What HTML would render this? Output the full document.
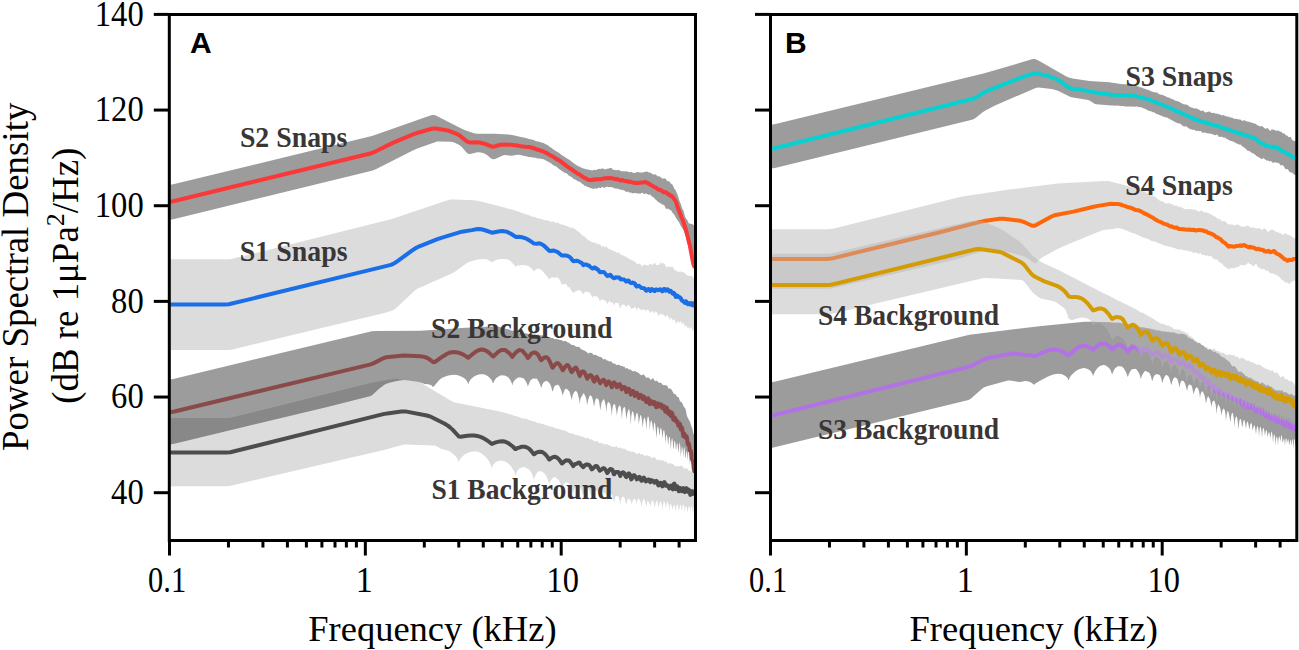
<!DOCTYPE html>
<html><head><meta charset="utf-8"><style>html,body{margin:0;padding:0;background:#fff;width:1299px;height:650px;overflow:hidden}svg{display:block}</style></head>
<body><svg width="1299" height="650" viewBox="0 0 1299 650"><text x="143.7" y="503.9" font-family="Liberation Serif" font-size="35.5" font-weight="normal" text-anchor="end" fill="#000" textLength="32.6" lengthAdjust="spacingAndGlyphs">40</text>
<text x="143.7" y="408.24" font-family="Liberation Serif" font-size="35.5" font-weight="normal" text-anchor="end" fill="#000" textLength="32.6" lengthAdjust="spacingAndGlyphs">60</text>
<text x="143.7" y="312.58" font-family="Liberation Serif" font-size="35.5" font-weight="normal" text-anchor="end" fill="#000" textLength="32.6" lengthAdjust="spacingAndGlyphs">80</text>
<text x="143.7" y="216.92000000000002" font-family="Liberation Serif" font-size="35.5" font-weight="normal" text-anchor="end" fill="#000" textLength="48.9" lengthAdjust="spacingAndGlyphs">100</text>
<text x="143.7" y="121.26000000000002" font-family="Liberation Serif" font-size="35.5" font-weight="normal" text-anchor="end" fill="#000" textLength="48.9" lengthAdjust="spacingAndGlyphs">120</text>
<text x="143.7" y="25.6" font-family="Liberation Serif" font-size="35.5" font-weight="normal" text-anchor="end" fill="#000" textLength="48.9" lengthAdjust="spacingAndGlyphs">140</text>
<text x="167.1" y="591.5" font-family="Liberation Serif" font-size="35.5" font-weight="normal" text-anchor="middle" fill="#000" textLength="38.0" lengthAdjust="spacingAndGlyphs">0.1</text>
<text x="364.35" y="591.5" font-family="Liberation Serif" font-size="35.5" font-weight="normal" text-anchor="middle" fill="#000" textLength="17.0" lengthAdjust="spacingAndGlyphs">1</text>
<text x="562.8000000000001" y="591.5" font-family="Liberation Serif" font-size="35.5" font-weight="normal" text-anchor="middle" fill="#000" textLength="32.4" lengthAdjust="spacingAndGlyphs">10</text>
<text x="432.4" y="641" font-family="Liberation Serif" font-size="36.5" font-weight="normal" text-anchor="middle" fill="#000" >Frequency (kHz)</text>
<text x="768.1" y="591.5" font-family="Liberation Serif" font-size="35.5" font-weight="normal" text-anchor="middle" fill="#000" textLength="38.0" lengthAdjust="spacingAndGlyphs">0.1</text>
<text x="965.35" y="591.5" font-family="Liberation Serif" font-size="35.5" font-weight="normal" text-anchor="middle" fill="#000" textLength="17.0" lengthAdjust="spacingAndGlyphs">1</text>
<text x="1163.8" y="591.5" font-family="Liberation Serif" font-size="35.5" font-weight="normal" text-anchor="middle" fill="#000" textLength="32.4" lengthAdjust="spacingAndGlyphs">10</text>
<text x="1033.65" y="641" font-family="Liberation Serif" font-size="36.5" font-weight="normal" text-anchor="middle" fill="#000" >Frequency (kHz)</text>
<text x="190" y="53" font-family="Liberation Sans" font-size="30" font-weight="bold" text-anchor="start" fill="#000" >A</text>
<text x="785" y="53" font-family="Liberation Sans" font-size="30" font-weight="bold" text-anchor="start" fill="#000" >B</text>
<g transform="translate(27.6,451) rotate(-90)">
<text x="0" y="0" font-family="Liberation Serif" font-size="36.9" font-weight="normal" text-anchor="start" fill="#000" >Power Spectral Density</text>
</g>
<g transform="translate(78,403.8) rotate(-90)">
<text x="0" y="0" font-family="Liberation Serif" font-size="36.9" font-weight="normal" text-anchor="start" fill="#000" >(dB re 1μPa<tspan dy="-14" font-size="26">2</tspan><tspan dy="14">/Hz)</tspan></text>
</g>
<g>
<path d="M170.3,259.3 227.3,259.3 229.8,259.2 232.3,258.8 391.8,219.1 448.3,200 450.8,199.4 453.8,199.4 473.8,200.3 477.8,200.8 492.8,204.5 495.3,205.3 498.8,206 501.3,206.8 505.3,207.7 507.3,208.5 511.3,209.3 514.8,210.6 519.8,212.1 522.8,213.4 524.3,213.5 525.3,214.2 528.8,215.1 531.8,216.4 534.8,216.9 538.3,218.5 539.8,218.6 543.3,219.8 544.8,219.9 545.8,220.4 547.3,220.3 550.8,221.8 551.3,221.8 552.8,221.5 553.3,221.6 555.3,222.7 556.3,222.9 557.8,222.6 560.8,224.4 562.8,224.4 564.3,225.3 565.3,225.3 566.3,226.1 567.8,226.3 569.3,227.5 570.8,227.7 572.3,227.6 572.8,227.8 576.3,230 577.8,231.4 579.3,232 580.3,233.5 582.3,235.4 583.8,236 585.3,237.6 586.3,238.1 587.8,240.1 590.8,241.3 591.8,242.6 592.3,242.7 593.3,242.1 593.8,242.2 594.8,243 596.3,243.5 597.3,243.6 598.3,244.5 598.8,244.5 599.8,244 600.3,244.5 601.3,246.6 601.8,246.8 602.8,245.9 603.3,246.1 604.8,247.3 605.3,247.2 606.3,246.5 606.8,246.8 607.8,248.3 608.8,248.4 609.8,249.3 611.3,250 612.3,250.2 613.8,251.3 615.8,251.7 617.3,252.9 617.8,252.9 618.3,252.6 618.8,252.6 621.3,254.9 621.8,255.2 622.8,255.3 624.3,256.1 625.3,256.9 626.3,256.6 627.8,258.5 629.3,258.5 630.8,260 633.3,260.7 634.8,261.7 637.3,264.1 637.8,264.3 638.3,264.3 639.3,263.6 639.8,263.6 640.3,264 641.8,266.2 642.3,266.2 643.3,265.1 644.3,264.6 645.3,265 646.3,264.9 646.8,265 647.8,265.9 648.3,265.8 649.3,264 649.8,263.7 650.8,264.6 651.8,264.5 652.8,264.8 653.3,264.5 654.3,262.9 654.8,262.7 656.3,264.9 658.3,265.1 658.8,265 659.3,264.6 660.3,262.6 660.8,262.6 661.3,263.5 661.8,263.7 662.3,263.3 663.8,263.2 664.3,263.5 665.8,266.2 666.8,267.3 667.3,267.4 668.3,266.6 668.8,266.5 669.8,266.8 670.8,267.5 671.3,267.1 671.8,266.3 672.3,266.2 673.8,269 675.3,270.6 676.8,270.7 678.3,271.9 678.8,272.1 680.3,271.3 680.8,271.6 681.3,272.3 681.8,272.6 682.8,271.8 685.3,273.6 686.3,274.8 687.3,275.5 687.8,275.7 689.8,275.7 690.8,276 691.8,275.8 692.3,276.3 693.3,277.9 694.8,278.1 L694.8,328.5 694.3,328.2 693.8,329.1 692.8,331.8 691.8,327.9 691.3,327.3 690.8,327.8 690.3,330 689.3,327.7 688.8,327.4 688.3,327.6 687.8,328.2 687.3,327.4 686.8,326 686.3,325.5 685.8,325.4 685.3,325.8 684.8,327.2 684.3,324.7 683.8,323.5 683.3,322.9 682.8,322.8 681.8,324.3 681.3,322.3 680.8,321.2 680.3,321.1 679.3,322.8 678.8,323.2 678.3,321.4 677.8,320.9 676.3,323.3 675.8,323.8 675.3,321.2 674.8,320.1 673.8,319.2 673.3,319.4 672.8,320.7 672.3,320 671.3,317.9 670.8,317.6 670.3,317.8 669.3,320 668.8,317.8 668.3,316.6 667.3,315 666.8,315 666.3,316 665.8,317.6 665.3,316.6 663.3,314.2 662.8,314.1 662.3,315.8 661.8,314.2 661.3,313.6 660.8,313.5 660.3,313.9 658.8,315.8 658.3,315.3 657.8,314 655.8,311.2 655.3,311.6 654.8,313.1 654.3,313.3 652.8,311 652.3,310.9 651.3,311.7 650.8,312.7 650.3,313.3 649.8,311.9 648.3,309.7 647.8,309.5 647.3,309.6 646.8,310 646.3,311.1 645.3,310 644.8,310.1 643.3,309.2 642.8,309.2 642.3,309.6 641.8,310.4 641.3,310.3 640.8,309.5 639.8,309.2 638.8,307.7 638.3,307.5 637.8,308.1 636.8,310.6 635.8,307.7 635.3,307 634.8,307 633.8,308.2 632.8,308.1 632.3,308.4 631.8,309.3 631.3,308.8 630.3,306.7 628.8,305.1 628.3,304.8 627.8,305.2 626.3,307.3 625.3,305.6 623.8,304.6 623.3,304.5 621.8,304.9 621.3,305.6 620.3,308.8 618.8,303.9 618.3,302.8 617.8,302.6 617.3,303.1 616.8,303.2 615.8,302.5 615.3,303 614.3,305.2 613.8,304.9 612.8,302.8 612.3,302.6 610.8,302.4 609.8,301.3 609.3,301.2 608.8,301.5 608.3,302.3 607.3,304.5 606.8,302.6 606.3,301.7 604.3,300 603.8,299.8 602.8,299.9 601.8,299.2 601.3,299.2 600.3,301 599.8,301.2 598.8,298.4 597.8,297.4 596.8,296.1 595.3,296.5 593.8,296.1 592.3,297.4 591.8,297 591.3,295.2 590.8,294.2 589.3,292.5 588.8,292.2 585.8,291.5 583.8,293.2 583.3,294.2 582.8,293.9 581.8,292 581.3,291.5 579.8,290.4 579.3,290.2 578.8,290.2 577.3,290.4 576.3,291 574.3,291.9 573.8,292.3 573.3,293.4 572.3,291.4 571.3,290.5 570.8,289.8 569.8,287.5 569.3,287 568.3,287.2 567.8,286.9 566.3,284.4 565.8,284.1 563.8,283.9 562.8,284.3 562.3,285 561.8,284.7 559.8,280.1 558.8,278.5 557.8,277.5 556.8,277.2 554.3,277.8 551.8,277.3 551.3,277.4 550.3,278.2 549.3,279.6 546.8,275.9 542.3,270.7 541.8,270.2 538.8,268.7 538.3,268.6 536.3,269.3 534.8,270.2 533.8,271.2 532.3,269.2 530.3,267.3 527.8,266 525.8,265.2 521.8,265 519.3,265.4 517.3,265.5 515.3,266.8 514.3,265.1 510.8,261.3 509.8,260.5 508.3,259.8 505.8,259.1 501.3,259 499.3,259.2 497.8,259.5 493.8,260.9 492.3,262.1 491.8,262.9 491.3,262.1 490.3,261.2 487.8,259.8 485.3,259 482.8,258.9 480.3,259.2 476.8,259.8 472.3,260.9 468.8,262 466.3,263.6 454.8,271.7 452.3,273.2 417.3,288.8 415.8,289.7 413.8,291.4 397.3,307 394.8,309.2 392.3,310.5 385.3,312.8 231.3,349.8 227.3,350.1 170.3,350.1Z" fill="#b4b4b4" fill-opacity="0.469"/>
<path d="M170.3,184.8 174.3,184 371.8,136 376.3,134.6 430.3,115.6 432.3,115.1 433.8,114.9 435.3,115.3 436.8,116 462.8,129.3 465.8,130.5 474.8,133.4 477.8,133.8 494.8,133.8 508.3,134.5 512.3,134.9 520.8,137 523.8,137.5 529.3,139.1 533.8,140 534.8,140.4 535.8,141.2 537.3,141.3 539.8,141.9 541.3,142.6 542.8,142.8 544.3,143.4 548.3,145.6 549.8,146.9 551.8,148 552.8,149 555.3,150.8 558.8,152.7 562.3,155.5 563.8,156.2 567.8,159.1 569.8,159.9 571.3,161.6 572.3,162.1 573.3,163.1 574.8,163.9 577.8,166.1 580.3,166.9 581.8,167.9 584.8,168.7 585.8,169.2 587.3,169.3 588.3,169.8 590.3,169.9 591.3,170.3 592.3,170.4 593.3,170.1 594.3,169.7 595.8,170.2 596.8,169.4 597.3,169.2 598.3,169.3 599.3,168.7 600.3,168.9 601.8,168.8 602.8,168.3 604.8,169.4 606.8,168.8 608.3,168.8 609.8,168.1 611.3,168.1 611.8,168.4 612.8,169.6 613.3,169.9 614.3,169.7 615.8,170.2 618.8,170 619.3,170.1 620.3,171 620.8,171.2 621.8,171.1 622.8,171.6 623.8,171.3 624.8,171.6 626.3,171.3 628.3,171.7 629.3,172.3 631.8,172.1 632.8,172.8 633.8,173 635.3,172.8 636.3,172.2 637.8,172.1 638.8,172.4 639.8,172.3 641.8,172.7 642.8,172.5 643.8,172 644.8,172 646.3,171.4 646.8,171.4 648.8,172.4 650.3,172.5 651.3,173.4 652.3,173.8 653.3,174.6 653.8,174.7 655.3,174.3 655.8,174.4 657.8,176.4 658.3,176.5 659.3,176 660.8,177.4 662.8,178.7 663.8,178.2 664.3,178.3 665.3,178.8 665.8,179.1 667.3,181.2 668.3,181.1 669.3,181.6 670.8,183.4 672.3,184.4 672.8,185.2 674.3,188.7 675.3,189.8 677.3,194 679.3,200.5 680.8,203.9 681.8,207.5 682.3,208.8 683.3,210.3 685.3,217.4 687.3,219.9 688.8,223.5 689.3,223.7 689.8,223.3 690.3,223.4 690.8,223.9 691.3,224 691.8,223.8 693.8,225.2 694.8,225.2 L694.8,263.9 691.8,256.1 689.3,246.6 688.8,245.2 687.8,243.7 687.3,242.3 685.8,236.2 684.3,232.2 682.8,229.1 680.8,225.9 679.3,222.7 677.8,220.5 676.8,219.3 674.3,214.8 672.3,212.6 671.3,210.6 670.8,210.2 669.8,210.1 668.8,208.9 668.3,208.5 667.3,209.1 665.8,208.4 664.3,205.3 663.8,204.8 662.8,204.7 662.3,204.5 657.3,201.2 656.3,200.1 654.8,199 653.3,197 652.3,196.8 651.8,196.4 650.3,194.6 649.8,194.6 648.8,195.1 647.8,194.3 646.8,194.1 645.8,193.3 644.8,194.1 644.3,194.1 643.3,193.6 642.3,192.8 641.8,192.7 640.8,193.6 640.3,193.8 638.8,193.4 637.3,193.6 636.8,193.3 633.8,192.9 633.3,192.9 632.3,193.4 631.8,193.2 630.8,192.3 629.3,192.7 628.3,191.7 627.8,191.6 626.3,192 625.8,191.7 624.8,190.7 623.8,190.5 622.8,189.8 621.8,189.9 616.8,188.4 615.8,188.6 614.8,188.6 614.3,188.4 613.3,187.5 612.3,187.4 611.3,187 608.8,187.2 607.8,186.8 606.8,186.7 605.3,187.2 604.3,187.9 603.8,187.9 602.8,186.7 602.3,186.9 600.8,188.1 600.3,188.1 599.3,187.7 598.8,187.6 597.3,188.7 596.8,188.8 595.3,188.3 594.3,188.8 592.3,188.8 588.8,187.2 587.3,186.9 586.3,186.1 585.3,186.1 584.8,185.9 583.8,184.7 582.8,184.2 579.8,181.8 578.3,181.6 575.3,179.5 574.8,179.3 573.8,179.2 573.3,178.8 572.3,177.4 568.8,175.6 566.8,173.6 564.3,172.5 562.3,171.3 558.8,168.8 556.3,166.6 553.3,165.3 551.3,163.5 547.8,161.4 545.3,160.2 543.8,159.2 541.8,158.9 540.3,158.5 537.3,158.4 535.8,157.7 534.3,157.7 533.3,157.4 532.3,157.4 530.3,157 528.8,157.1 527.3,156.4 522.3,155.6 520.8,155 517.3,154.8 511.8,155.8 508.3,155.5 505.8,155 503.3,155.2 498.3,157.4 495.8,158.7 493.8,159.3 492.8,159.3 490.8,158.3 487.3,155.3 485.3,154 483.8,153.3 480.8,152.5 478.8,152.2 477.3,152.2 470.3,153.9 469.3,154 468.3,153.8 467.3,153.2 466.3,152.3 461.8,147.1 459.8,145.3 457.8,144.2 454.3,142.6 452.3,142 450.8,141.7 440.3,141.4 437.3,141.6 434.3,142.4 417.3,148.4 412.8,150.4 376.3,169 373.8,170.1 371.8,170.8 174.3,219 170.3,219.8Z" fill="#1a1a1a" fill-opacity="0.43"/>
<path d="M170.3,418.1 226.3,418.1 230.3,417.8 371.3,382.8 392.3,378.9 394.3,378.7 396.3,378.8 416.8,381.7 420.3,382.6 423.3,384.2 451.3,400.9 454.8,402.6 499.8,411.6 504.8,412.7 507.3,413.6 511.8,414.8 514.8,415.9 516.8,416.2 522.8,418.4 523.8,418.4 526.8,419.1 528.8,420 532.3,420.9 533.3,421.3 534.8,421.6 537.3,423.1 537.8,423.3 539.3,423 539.8,423.1 541.3,423.9 543.3,424 545.3,425 547.8,425.4 549.3,426.4 549.8,426.6 551.3,426.6 553.8,427.4 555.3,428.2 557.3,428.7 558.3,428.6 559.3,429.3 560.8,429.8 564.8,430.4 567.3,432.1 569.3,433.1 570.3,433.2 571.3,433.6 573.3,433.8 575.3,435 576.3,434.9 577.8,435.5 579.3,435.5 581.8,436.7 583.3,436.8 584.8,437.9 586.3,438 587.8,437.7 588.3,437.9 590.3,439.7 591.3,439.1 591.8,439.3 594.3,441.4 596.3,441 596.8,441 599.8,443.3 600.8,443.1 601.8,443.3 602.8,443.3 603.3,443.4 604.3,444.6 604.8,444.6 606.8,443.8 607.8,444.7 608.8,444.9 611.8,446.5 613.8,446.9 614.8,446.9 616.3,446.1 616.8,446.2 617.8,447.8 618.3,448.2 619.3,447.5 619.8,447.4 620.8,448.1 622.8,448.8 623.8,448.4 624.3,448.6 625.3,449.5 626.8,449.8 628.3,451.5 629.8,450.8 631.3,452 631.8,452 632.8,451.5 633.3,451.5 635.3,453.1 637.3,454 637.8,453.8 639.3,452.7 640.3,454.3 640.8,454.5 641.3,454.2 642.8,454.2 643.3,454.4 644.3,455.8 644.8,456.2 645.3,456.1 646.3,455.1 646.8,455.1 648.3,456.3 649.8,456 651.3,457.8 652.3,458.2 653.8,457.3 654.3,457.2 654.8,457.2 656.3,459.3 656.8,459.7 657.3,459.9 658.8,460 660.3,459.8 661.3,460.8 661.8,460.8 662.8,460 663.8,460.7 664.8,461.9 665.3,461.8 665.8,461.2 666.3,461.2 667.8,463.4 668.3,463.7 669.8,463.1 670.8,463.8 671.8,463.5 673.8,464.7 674.8,466.2 675.3,466.5 676.3,465.9 676.8,465.9 677.3,466.3 677.8,466.4 678.8,466.1 679.8,466.4 680.3,466.2 681.3,465.2 681.8,465.5 682.8,466.9 684.8,468.7 685.3,468.8 686.3,468.2 686.8,468.1 688.8,470.7 689.8,470.4 690.8,471.3 691.8,471.5 692.8,472.1 693.3,471.9 694.3,470.7 694.8,471 L694.8,508.4 694.3,506.8 693.8,507.3 693.3,509.9 692.8,514.2 692.3,508.9 691.8,506.3 691.3,505.5 690.8,507.1 690.3,512.8 689.8,508.1 689.3,506.2 688.8,506.2 688.3,507.8 687.8,511.5 687.3,511.2 686.8,508 686.3,506.4 685.8,506.1 685.3,507.6 684.8,513.2 684.3,506.8 683.8,504.7 683.3,504.3 682.8,505.2 681.8,511.2 681.3,507.3 680.8,505.3 680.3,504.6 679.8,506 678.8,511.7 678.3,507.3 677.8,505.1 677.3,504.2 676.8,504.8 676.3,507.5 675.8,512.1 675.3,507.5 674.8,505.4 674.3,504.7 673.8,505.2 673.3,506.5 672.8,509.7 671.8,505.9 670.8,503.9 670.3,504.1 669.8,506.2 669.3,510.5 668.8,505.6 668.3,503.4 667.8,502 667.3,501.9 666.8,503.2 665.8,508.4 665.3,504.3 664.8,502.4 664.3,501.4 663.8,501.5 662.8,505.4 662.3,510.5 661.8,505 661.3,502.6 660.8,501.5 660.3,501.7 659.8,502.5 659.3,503.8 658.8,506.4 658.3,506.6 657.8,503.2 657.3,501.5 656.8,500.8 656.3,501.1 655.3,504.6 654.8,507.6 654.3,506.4 653.8,503.2 653.3,501.3 652.8,500.4 652.3,500.4 651.8,501 651.3,502.2 650.3,506.6 649.8,504 648.3,501.2 647.8,500.8 647.3,501.5 646.8,503.4 646.3,506.7 645.8,505.1 645.3,502 644.8,500.5 643.8,499.2 643.3,499 642.8,500.2 641.8,505.8 641.3,505.6 640.8,502.7 639.3,499.4 638.8,498.7 638.3,498.6 637.8,499.1 637.3,500.6 636.8,504.6 635.8,500.4 635.3,499.4 634.8,498.8 634.3,498.6 633.8,499.1 632.8,500.7 632.3,501.8 631.8,504 631.3,503.1 630.8,501 630.3,499.9 628.8,498.6 628.3,498.6 627.3,500.6 626.3,505.3 624.8,498.8 624.3,497.5 623.8,496.9 623.3,496.8 622.3,496.9 621.8,497.4 621.3,498.6 620.8,501.1 620.3,505.6 619.8,501.7 619.3,499.5 618.8,497.7 618.3,496.6 617.8,496 616.3,495.7 615.8,495.9 615.3,497.1 614.3,502.1 613.8,501.6 613.3,498.8 612.3,495.4 610.8,493.6 608.8,494.2 608.3,495.3 607.8,497.4 607.3,501.2 606.8,497.8 606.3,495.8 605.8,494.3 604.8,492.9 603.8,492.2 603.3,492.3 602.8,492.7 601.8,494.5 600.3,498.5 599.8,498.7 599.3,496.2 598.3,493.2 597.3,490.8 596.8,490.4 595.3,490.9 593.3,493.1 591.8,498.5 590.3,492.5 587.8,487.6 586.8,487.3 586.3,487.5 585.8,488.3 583.8,493.2 583.3,495.6 582.8,494.5 581.8,490.8 580.3,487.8 579.3,486.5 577.8,486.1 576.3,486.3 574.8,487.9 573.8,491.3 573.3,494.4 571.8,487.9 570.8,485.6 569.3,483.5 567.3,482.4 565.3,482.5 563.8,484.1 562.8,486.3 562.3,488.3 561.8,488.3 560.8,484.4 558.8,479.9 558.3,479.4 557.3,479.2 555.8,477.3 555.3,477.1 553.8,477.3 552.3,478.4 549.8,482.3 549.3,484.3 547.8,479.4 546.3,476.1 544.8,473.8 542.3,471.7 541.8,471.5 539.8,471 537.8,471.8 537.3,472.3 535.3,475.5 534.3,478.6 533.8,479.5 532.8,475.8 531.3,472.5 530.3,470.9 528.8,469.3 527.8,468.9 525.8,467.4 524.3,467.1 522.8,467.2 520.3,467.9 518.8,469 517.3,471.3 515.3,475.5 514.3,471.8 510.8,466 508.3,463.6 505.8,461.7 501.3,460.4 498.3,461 496.3,461.8 494.8,462.9 493.8,463.9 492.8,465.4 492.3,466.5 491.8,468.7 490.8,464.9 489.8,462.7 488.3,460.3 486.3,457.7 483.8,455.2 480.8,452.9 478.8,451.9 476.3,451.3 473.3,451.4 470.3,452 467.3,453.1 464.3,454.8 461.8,456.9 460.3,458.7 459.3,460.7 458.8,463.1 458.3,460.6 456.8,457.8 454.8,455.5 450.8,452.3 448.8,451.1 446.8,450.3 440.8,448.7 436.3,446 434.8,445.6 432.3,445.4 407.3,444.4 405.3,444.4 403.3,444.7 382.8,450.2 229.8,486 225.8,486.2 170.3,486.2Z" fill="#b4b4b4" fill-opacity="0.469"/>
<path d="M170.3,379.6 174.3,378.8 371.8,331.2 375.3,331 420.3,330.7 465.8,327.7 496.3,326.3 498.8,326.7 505.8,328.8 508.3,329.3 511.3,330.5 514.3,331.1 519.8,333.2 521.8,333.3 523.3,333.6 525.3,333.3 530.3,334.2 535.3,334.4 536.8,334.8 538.3,334.8 539.3,335.1 541.3,335.4 542.8,335.3 544.3,336.1 546.8,336.7 547.8,337.1 549.8,337.2 551.3,337.9 552.8,338 553.8,338.8 554.3,339 556.3,339.1 557.3,339.4 558.3,339.3 559.8,340 561.3,340 563.3,341.2 564.8,341 565.8,341.1 567.3,342.3 568.8,342.7 571.8,344.9 573.8,344.9 575.3,346.2 575.8,346.4 577.3,346.9 578.3,346.8 579.3,347.1 580.8,349.1 581.3,349.4 581.8,349.3 583.3,350.3 584.3,350.4 584.8,350.7 587.3,352.6 588.3,353.7 589.3,352.7 589.8,352.5 590.8,353.1 591.8,353 592.3,353.3 593.3,354.8 593.8,355 595.3,354.7 595.8,354.8 596.8,355.5 598.8,356.5 601.3,357.2 603.3,359.3 603.8,359.4 604.8,358.9 605.3,359 606.8,360.5 607.8,360.5 608.8,361.3 609.3,361.4 610.3,361.2 611.3,361.5 611.8,361.9 612.8,363.4 613.3,363.5 614.3,363.2 616.3,364.9 618.8,364.7 619.3,364.8 620.3,365.8 620.8,366 621.8,365.8 623.3,366.8 624.3,366.6 625.8,368.8 626.8,367.9 627.3,367.9 628.8,369.6 629.3,369.8 630.3,369.2 631.8,370.7 633.3,371.5 633.8,371.5 634.8,370.7 635.3,370.9 636.3,371.9 637.3,372 638.3,373 639.3,373.5 640.3,374.8 641.8,375.3 642.3,375.3 643.3,374.2 643.8,374.4 646.3,377.8 646.8,377.9 647.8,377.2 649.3,378.1 650.3,379.5 650.8,379.9 651.3,379.6 652.8,378.2 653.3,378.2 654.8,381.2 655.3,381.2 655.8,380.6 656.3,380.5 657.8,381.4 658.8,382.7 660.8,382.8 661.3,383.1 662.3,384.5 663.8,385.2 664.8,385 665.8,385.4 666.8,385.2 667.3,385.9 668.8,389 669.3,388.8 669.8,388.2 670.3,388.4 670.8,389.1 671.8,389.9 673.8,393.7 674.3,394 674.8,393.7 675.3,394 677.3,396.9 677.8,397.1 678.3,397 678.8,397.6 679.8,400.7 680.3,401.5 681.8,402.2 683.8,406.8 685.3,408.5 685.8,409.9 686.8,415.2 687.3,416.8 688.8,419.7 689.8,421.2 690.8,424.6 692.3,428.4 693.3,433 693.8,434.5 694.3,434.5 694.8,433.9 L694.8,457.8 694.3,462.9 693.8,463.8 693.3,456.1 692.8,454.5 691.8,462.4 691.3,454.4 690.8,452.9 690.3,456.6 689.8,464.6 689.3,453.5 688.8,449.8 688.3,451.5 687.8,460.4 687.3,454.5 686.8,450.9 686.3,451.7 685.8,456.7 685.3,458.2 684.8,450 684.3,447.1 683.8,448.8 683.3,457.4 682.8,450.8 682.3,447 681.8,446.9 680.8,456.8 680.3,446.6 679.8,442.6 679.3,443.7 678.8,449.8 678.3,452.7 677.8,445.6 677.3,442.9 676.8,444 676.3,449 675.8,449.1 675.3,442.3 674.8,440.5 674.3,442 673.8,447.2 673.3,449.4 672.8,441.4 672.3,438.3 671.8,438.8 671.3,442.4 670.8,449.8 670.3,440.8 669.8,437.3 669.3,436.4 668.8,438.5 668.3,445.4 667.3,437 666.8,434.8 666.3,435 665.8,437.7 665.3,443.7 664.8,434.1 664.3,430.6 663.8,430 663.3,431.3 662.8,435.6 662.3,438.1 661.8,431.4 661.3,428.5 660.8,427.7 660.3,429.1 659.8,433.5 659.3,435.8 658.8,429.6 658.3,427 657.8,426.4 657.3,427.9 656.3,438.5 655.8,430 655.3,425 654.8,422.6 654.3,422.8 653.8,425.5 653.3,431.8 652.3,424 651.8,421.5 651.3,420.4 650.8,420.9 650.3,423.4 649.8,430.7 649.3,421.5 648.8,418.1 648.3,416.6 647.8,416.7 647.3,418.6 646.8,422.8 646.3,430.3 645.8,422.6 645.3,419.4 644.8,418.1 644.3,417.8 643.8,418.7 643.3,421.5 642.8,428.1 641.8,419.3 641.3,416.6 640.8,415.1 640.3,415.3 639.8,417.5 638.8,424.3 638.3,417.5 637.8,414.4 637.3,413.1 636.8,413.1 636.3,414 635.8,415.9 634.8,422.3 634.3,417.2 633.8,414.3 633.3,412.4 632.8,411.5 632.3,411.6 631.8,412.9 631.3,416.1 630.8,425.4 630.3,416.2 629.8,412.1 629.3,409.6 628.8,409.1 628.3,409.9 627.8,411.4 627.3,413.4 626.3,419.3 625.8,412.9 625.3,408.9 624.8,407.1 624.3,407 623.3,408 622.8,409.7 622.3,412.8 621.8,419.1 621.3,411.4 620.8,407.8 620.3,405.9 619.8,405.4 619.3,405.6 618.8,406.3 618.3,407.5 617.8,409.4 616.8,415.5 616.3,410.5 615.3,405.4 614.8,404.4 614.3,404 613.8,404.2 613.3,404.9 612.8,406.4 612.3,409.5 611.8,416 611.3,410.1 610.8,406.5 610.3,404.3 609.8,403.2 608.8,402.2 608.3,402.1 607.8,402.6 607.3,404.1 606.8,406.8 606.3,412.2 605.8,406.6 605.3,403.4 604.3,400 603.8,399.3 603.3,399.5 602.8,400.2 601.8,402.2 601.3,403.8 600.3,410.5 599.3,402.4 598.8,400.3 598.3,399.3 596.8,398.3 596.3,398.3 595.8,399 595.3,400.3 594.8,402.3 594.3,405.8 593.8,405.6 593.3,401.9 592.3,397.8 591.8,396.7 591.3,396.1 590.3,395.2 589.8,395.4 589.3,396.4 588.3,399.3 587.8,401.5 587.3,405.3 586.3,399.3 585.8,397.4 584.8,394.9 583.8,393.2 583.3,393.6 580.8,397.8 580.3,399.7 579.8,404.6 579.3,400.1 577.8,394 577.3,392.4 576.8,391.7 576.3,391.3 575.3,391 574.8,391.4 573.8,392.7 572.8,395.1 572.3,396.9 571.8,400 569.8,392.6 569.3,391.6 567.3,389.2 565.8,388.8 565.3,388.8 564.8,389.5 563.3,393.3 562.8,395.8 561.3,390.4 559.3,386.1 558.8,385.5 557.8,384.8 557.3,384.7 556.3,385.3 554.8,385.7 554.3,386.4 553.8,387.9 552.8,391.5 552.3,390.9 551.3,387.1 549.8,383.5 549.3,382.9 548.3,382.2 547.3,381.1 546.8,380.8 546.3,380.9 545.3,381.6 544.3,381.8 543.3,382.8 542.3,384.5 541.3,387.9 540.8,386.9 540.3,385.1 538.8,381.8 536.8,378.8 536.3,378.5 535.3,378.8 533.8,378.4 533.3,378.6 532.3,379 530.3,380.6 527.8,386.6 527.3,384.4 526.3,381.9 523.8,378.6 523.3,378.2 520.8,377.4 518.3,377.6 517.3,378 514.3,380.6 512.8,383.2 512.3,385.6 511.8,383.2 511.3,381.9 509.8,379.2 508.8,378 507.8,377.1 504.8,375.6 503.8,375.4 501.3,375.3 499.3,376.1 497.8,376.9 496.3,378.1 495.3,379.2 493.8,381.8 493.3,383.3 492.8,382.9 491.8,380.4 490.8,378.9 488.3,376.5 485.3,374.8 483.3,374.3 481.8,374.2 479.8,374.3 477.3,374.9 474.8,376.1 472.8,377.5 471.3,378.8 469.8,380.7 468.8,382.6 468.3,384.8 467.8,382.8 466.8,380.9 465.3,379.1 463.8,377.9 461.8,376.7 459.3,375.7 456.8,375 454.3,374.8 451.3,374.9 448.3,375.4 445.3,376.4 442.3,377.7 440.8,378.7 439.3,380.1 433.3,386.9 432.8,386.7 431.3,385.3 429.8,384.7 428.3,384.3 424.8,383.9 419.8,382.2 417.3,381.7 404.3,380.1 401.3,380.3 394.3,381.4 387.8,383.3 384.8,384.6 378.8,389 372.3,395 370.8,395.9 368.8,396.6 327.3,406.9 174.3,443.7 170.3,444.5Z" fill="#1a1a1a" fill-opacity="0.43"/>
</g>
<path d="M170.3,304.6 224.8,304.6 228.8,304.3 383.8,266.6 390.8,264.9 393.3,263.9 395.8,262.3 413.3,249.7 416.3,247.8 419.3,246.4 436.8,239.4 441.3,237.8 461.8,231.7 471.8,230.1 476.3,229.2 478.8,229 481.3,229.2 484.3,230 491.8,232.7 499.8,231.3 503.3,231.1 506.8,231.7 511.3,234 515.3,236.7 515.8,236.9 518.3,236.8 522.3,237.3 525.8,238.4 528.3,239.7 531.3,241.6 533.8,243.5 537.3,243.7 539.3,243.3 540.3,243.6 543.8,245.5 549.3,250.8 550.3,251 553.8,250.6 557.3,251.8 561.8,255.5 564.8,255.4 566.3,255.5 567.3,255.8 569.3,256.8 570.8,258 572.3,260.1 573.3,261.2 576.8,260.7 578.3,261.1 580.3,262.3 581.3,262.7 582.3,263.7 583.3,265.2 585.3,264.4 586.8,264.8 589.3,265.9 590.3,267 592.3,268.5 592.8,268.5 594.3,267.5 594.8,267.5 598.3,270 599.8,272.1 600.3,272.3 601.3,272 602.8,271.9 604.3,272.4 607.3,276.1 608.8,275.6 609.8,274.8 610.3,274.8 611.8,276.6 613.8,278.2 614.3,278.2 615.8,277.3 617.3,277.5 618.8,277.4 619.3,277.6 619.8,278.2 620.3,279.2 620.8,279.4 621.8,279.2 623.3,279.6 624.3,279.6 624.8,279.9 625.8,281.3 626.3,281.7 627.8,280.7 628.3,280.5 628.8,280.8 629.8,282.3 630.3,282.7 631.8,283.1 632.3,282.6 632.8,282.6 634.3,283.1 634.8,283.5 635.8,285.5 636.3,286.2 636.8,286.6 637.8,285.9 638.8,285.8 639.8,286.4 641.3,287.9 642.3,287.9 643.3,288.2 644.3,288.2 644.8,288.7 645.8,290.5 646.3,290.7 648.3,288.9 648.8,289.1 650.3,290.9 651.8,289 652.3,289.1 654.3,291.1 654.8,291.1 655.8,289.6 656.3,289.4 658.3,290.3 659.8,289.3 660.8,289.4 661.3,289.8 662.3,291.4 663.8,289.1 664.3,288.9 664.8,289.1 665.3,289.6 665.8,290.7 666.3,290.4 667.3,289.3 667.8,289.4 668.8,290.5 669.3,291.6 670.3,290.8 670.8,290.8 672.3,293.2 672.8,293.6 673.3,293 673.8,292.8 674.3,293.3 675.8,297 676.8,295.6 677.3,295.5 678.8,297.3 679.8,297.3 680.3,297.6 680.8,298.3 681.8,300.5 682.8,300.8 684.3,302.2 684.8,302.9 685.8,301.3 686.3,301.4 687.3,303.8 687.8,304.2 688.3,303.4 688.8,303.1 689.3,303.3 690.3,304.5 690.8,303.3 691.3,303 692.8,305.5 693.8,303.5 694.3,303.1 694.8,303.6" fill="none" stroke="#1a6ee6" stroke-width="4.0" stroke-linejoin="round" stroke-linecap="butt"/>
<path d="M170.3,201.8 174.3,201 371.3,153.2 374.8,151.8 393.8,142.4 414.3,133.9 417.8,132.7 431.8,128.8 433.8,128.5 435.8,128.6 447.8,130.5 450.3,131.3 455.3,133.4 458.3,134.7 459.8,135.6 466.3,141 467.8,141.9 468.8,142.3 470.8,142.4 476.8,142.2 479.3,142.5 486.3,144.3 491.3,146.3 492.8,146.7 494.8,146.4 499.3,145 501.8,144.6 511.3,144.7 516.8,145.4 520.8,146.3 523.8,146.5 526.3,147.1 529.3,147 534.3,148.3 537.8,149.8 539.8,150.2 540.8,150.8 542.3,151.1 543.8,151.7 544.8,152.3 546.3,152.8 550.3,155.4 551.8,156 553.8,157.1 555.8,158.6 559.3,160.4 569.8,168.4 571.3,169.1 573.3,170.8 575.3,171.9 577.3,173.5 579.3,174.4 584.8,178.1 585.8,178.3 587.3,179.4 589.8,180.1 591.3,180.1 592.8,179.5 594.3,179.8 595.8,179.2 600.8,179.2 603.8,178.4 607.3,177.9 608.8,178.3 610.3,177.9 612.3,178.4 613.8,178.6 615.3,179.3 616.3,179.1 617.3,179.1 620.3,180.5 620.8,180.6 622.3,180.1 623.8,180.7 626.8,181.2 628.3,181.8 629.8,181.5 630.8,182.1 632.3,182.3 634.3,182.9 635.8,182.8 637.8,183.1 642.3,182.4 643.3,182.4 644.3,182.1 645.3,182.1 647.8,183 648.8,183.8 649.8,184.1 650.8,185 652.3,185.7 654.3,187.1 655.8,187.5 657.3,188.9 658.8,189.8 660.3,189.8 660.8,190.1 663.8,192.3 664.8,191.9 665.3,192 666.8,193 668.3,194.5 669.3,194.5 669.8,194.8 670.8,196.1 671.3,196.2 671.8,196.1 672.3,196.3 675.8,201.4 678.3,209.1 679.3,211.1 681.3,217 682.8,220.2 686.3,231.2 689.8,245.4 692.8,261.5 693.8,265.3 694.8,267.6" fill="none" stroke="#fa3838" stroke-width="4.0" stroke-linejoin="round" stroke-linecap="butt"/>
<path d="M170.3,452.6 226.3,452.6 230.3,452.3 383.3,414.1 387.3,413.4 401.3,411.5 405.3,411.4 426.8,415.5 429.3,416.2 431.3,417 444.8,423.7 447.8,425.6 450.3,427.6 452.8,429.9 458.8,436.5 460.8,436.7 467.3,435.7 470.8,435.4 474.3,435.5 477.3,435.9 480.3,436.8 483.8,438.4 487.3,440.5 491.8,443.9 495.8,442.4 499.8,441.4 502.8,441.3 505.3,441.8 508.8,443.4 510.3,444.7 512.8,446.5 515.3,449.1 515.8,449.1 517.3,448 519.3,447.6 521.3,446.7 524.8,446.7 527.3,447.6 529.3,448.9 531.8,451.6 533.8,454.3 534.3,454.2 536.3,452.6 537.8,452 540.3,451.7 542.3,452 544.8,453.8 547.8,457.2 548.8,459 549.3,459.5 552.8,457.1 554.8,456.7 555.8,456.9 558.3,458.7 559.8,460.4 561.8,463.4 562.3,463.4 564.3,461.5 566.3,460.3 567.8,460.6 568.8,460.4 569.3,460.7 571.3,463.2 573.3,466.2 574.3,464.8 575.3,463.9 576.8,463.7 578.3,462.7 579.3,462.5 579.8,462.9 580.8,464.8 581.8,465.5 582.8,466.9 583.3,467.2 584.8,465.4 585.3,465 586.8,464.5 587.3,464.5 589.3,465.2 590.3,466.5 591.3,468.7 591.8,469.4 595.3,466.2 595.8,465.9 596.3,465.9 597.3,466.5 599.8,470.7 600.3,470.5 603.3,468.2 603.8,468.1 604.3,468.4 605.8,470 607.3,473 609.8,469.5 610.3,469 610.8,469.1 612.3,469.7 612.8,470.7 613.8,474.1 614.3,474.3 615.3,472.4 615.8,472 617.8,471.9 618.3,472.1 618.8,472.7 620.3,475.9 621.3,473.4 621.8,472.8 622.8,472.4 623.3,472.3 623.8,472.7 625.8,476.7 626.3,477.2 627.8,474.1 628.3,473.5 628.8,473.4 629.3,473.6 629.8,474.6 630.8,478.2 631.3,479.3 631.8,478.9 632.8,476.1 633.3,475.5 633.8,475.2 634.3,475.3 635.8,477.3 636.8,479.3 637.8,478.7 638.8,477.1 639.3,476.7 639.8,477.1 641.3,480.7 641.8,480.8 643.3,478 643.8,477.6 644.3,478.2 645.3,480.7 645.8,481.4 646.3,481.2 646.8,480.3 648.3,479.4 648.8,479.6 650.3,482.2 651.3,480.2 652.3,480.7 652.8,480.6 653.3,480.9 654.3,482.7 654.8,482.6 655.3,481.7 656.3,480.9 656.8,481.2 657.3,482.1 658.3,485.4 658.8,485.4 659.8,483.3 660.3,482.7 660.8,482.7 661.3,483.3 662.3,486.4 663.8,482.7 664.3,482.1 664.8,482.5 665.8,485.8 666.8,484.9 667.3,485.2 668.8,487.3 669.3,488.4 670.3,486.1 670.8,485.5 671.3,485.6 672.3,488.8 672.8,489.3 673.8,484.1 674.3,483.5 674.8,484.8 675.8,489.1 676.8,486.9 677.3,486.3 677.8,487.1 678.8,491.3 679.8,488.7 680.3,488.1 680.8,488.3 681.3,489.3 681.8,491.2 682.3,490.4 682.8,488.9 683.3,488.2 683.8,488.6 684.8,492.1 685.8,488.8 686.3,488.1 686.8,488.9 687.3,491 687.8,491.6 688.3,490.3 688.8,489.7 689.3,490.6 690.3,494.9 691.3,491.5 691.8,491.2 692.3,492 692.8,493.9 693.8,491.6 694.3,491.3 694.8,492.3" fill="none" stroke="#4d4d4d" stroke-width="4.0" stroke-linejoin="round" stroke-linecap="butt"/>
<path d="M170.3,412.3 174.3,411.5 369.8,364.6 373.3,363.4 383.3,358.3 386.3,357.2 403.8,355.5 420.3,356.2 424.3,356.9 427.3,358 429.8,359.5 433.3,362.3 434.3,362.1 435.8,361.4 442.3,356.7 446.3,354.2 449.3,352.8 451.8,352.2 453.8,352.1 455.8,352.2 459.3,352.9 463.3,354.6 468.3,357.7 472.3,354.3 475.3,352 477.8,350.6 480.3,349.7 481.8,349.5 483.3,349.7 486.3,350.8 489.3,352.9 492.8,356.4 493.3,356.5 497.3,352.6 499.3,351 501.3,350.1 503.8,349.9 505.3,350.1 508.8,352.8 510.3,354.2 512.3,356.9 514.3,354.2 516.8,351.6 518.8,350.3 519.8,350.1 522.3,350.6 525.8,354.7 527.8,358 528.8,357.1 530.3,355 531.3,353.8 532.8,352.9 534.3,352.5 535.8,352.8 537.8,354.3 540.8,359.7 541.3,360.1 543.8,357.7 545.8,357.2 546.8,357.5 547.8,358.1 548.3,358.6 550.3,362.6 552.3,367.4 552.8,367.7 554.3,365.4 556.3,363.5 557.3,363 558.8,363.8 559.8,364.8 562.3,369.5 562.8,370.1 563.8,368.9 565.3,366.5 565.8,365.9 567.3,364.9 567.8,365.1 569.3,367.1 571.3,371.7 571.8,372.2 574.8,368 575.8,367.6 576.3,367.9 577.3,369.7 579.8,375.9 581.8,371.8 582.3,371.4 583.3,371.5 584.3,372.2 584.8,372.8 586.3,376.7 587.3,378.7 589.3,375.5 589.8,375.2 590.8,375.1 591.3,375.4 591.8,376.3 593.8,381.3 594.3,381.6 595.8,377.9 596.3,377.1 596.8,376.9 600.3,383.3 601.3,381.5 603.3,379.7 603.8,379.8 604.3,380.5 606.3,385.2 607.8,381.9 608.3,381.4 608.8,381.5 610.3,383.3 611.8,387.3 612.8,384.1 613.3,383 613.8,382.4 614.3,382.5 615.8,384.3 616.8,387.3 617.3,387.2 618.8,384.7 619.3,384.2 619.8,384.2 620.8,386 621.8,389.4 622.8,387.5 623.3,387.1 624.3,386.9 624.8,387.3 625.3,388.4 626.3,392.1 626.8,391.5 627.8,389.3 628.3,388.8 628.8,388.7 629.3,389.3 629.8,390.7 630.8,394.6 631.8,392.1 632.3,391.4 632.8,391 633.3,391.1 633.8,392.1 634.8,396 635.3,395.5 636.3,392.9 636.8,392.8 637.3,393.3 637.8,394.3 638.8,398 639.3,397.3 640.3,394.9 640.8,394.8 641.3,395.3 642.8,399.1 643.3,397.4 643.8,396.6 644.3,396.8 645.3,398.8 646.3,402.3 647.8,398.4 648.3,398.3 648.8,399.4 649.8,404.1 650.8,401.4 651.3,401.1 651.8,401.4 652.3,402.2 653.3,404.2 653.8,402.7 654.3,402.1 654.8,402.2 655.3,403.3 656.3,407.3 657.3,404.3 657.8,403.4 658.3,403.4 658.8,404.4 659.3,406.4 659.8,406.3 660.8,404.5 661.3,404.4 661.8,405.7 662.3,408.2 662.8,408.1 663.3,406.5 663.8,406 664.3,406.8 665.3,411.6 666.3,408.1 666.8,407.7 667.8,412.4 668.3,413.8 668.8,412 669.3,411 669.8,411.6 670.8,416 671.3,413.9 671.8,412.7 672.3,413.5 673.3,419.7 673.8,419.7 674.3,418.1 674.8,417.6 675.3,418.5 675.8,421 676.3,421.6 676.8,420.8 677.3,421.2 678.3,425.6 678.8,425.2 679.3,423.4 679.8,423.6 680.8,429.4 681.8,427.4 682.3,428.9 683.3,436.3 683.8,434.5 684.3,433.7 684.8,435 685.3,437.5 685.8,437.2 686.3,436 686.8,437.1 687.8,444.5 688.3,443.4 688.8,443.7 689.3,446.3 689.8,450.6 690.3,450.4 690.8,450.8 691.3,453.8 691.8,458.8 692.3,460.2 692.8,460.9 693.3,464 693.8,469.1 694.3,471.3 694.8,471.6" fill="none" stroke="#8a4a4a" stroke-width="4.0" stroke-linejoin="round" stroke-linecap="butt"/>
<text x="239.9" y="147.1" font-family="Liberation Serif" font-size="28.6" font-weight="bold" text-anchor="start" fill="#3a3636" textLength="107.5" lengthAdjust="spacingAndGlyphs">S2 Snaps</text>
<text x="239.8" y="261.3" font-family="Liberation Serif" font-size="28.6" font-weight="bold" text-anchor="start" fill="#3a3636" textLength="107.7" lengthAdjust="spacingAndGlyphs">S1 Snaps</text>
<text x="431.09999999999997" y="337.6" font-family="Liberation Serif" font-size="28.6" font-weight="bold" text-anchor="start" fill="#3a3636" textLength="181.4" lengthAdjust="spacingAndGlyphs">S2 Background</text>
<text x="431.4" y="499.0" font-family="Liberation Serif" font-size="28.6" font-weight="bold" text-anchor="start" fill="#3a3636" textLength="180.9" lengthAdjust="spacingAndGlyphs">S1 Background</text>
<path d="M771.5,124.7 775.5,123.9 983.5,73.5 1031,59.6 1033,59.1 1034.5,59 1036,59.4 1037.5,60.1 1066,76.2 1069.5,77.7 1072.5,78.4 1089.5,81 1109.5,82.2 1112,82.8 1114.5,83 1120.5,84.1 1125.5,84.3 1127.5,84.7 1134.5,85 1136.5,86.1 1138.5,86.5 1140.5,87.4 1142,87.5 1143.5,88.5 1145,88.7 1146.5,89.6 1150,90.5 1152,91.8 1153.5,91.9 1155.5,92.6 1157,92.6 1158.5,93.8 1160,94.4 1163,95.1 1164.5,96 1165.5,96.2 1168,97.5 1169.5,97.7 1171,98.8 1172.5,98.9 1175.5,100.8 1178,101.2 1183.5,104.2 1185.5,104.6 1186.5,104.6 1188.5,105.7 1190,107.1 1194.5,108.6 1196,108.3 1197.5,109.1 1199,109.5 1200.5,110.8 1201,111 1203,110.6 1203.5,110.7 1204.5,111.9 1205.5,112.5 1206,112.5 1208,111.7 1209.5,111.6 1210,111.8 1211,112.7 1213,112.9 1214,112.8 1215.5,113.7 1217.5,113.5 1218.5,114.3 1219,114.5 1220,114.2 1221.5,115.5 1222,115.6 1223,115 1223.5,115 1224.5,115.8 1225.5,116 1226.5,116.6 1227.5,116.6 1229.5,117.1 1230.5,117.5 1232.5,117.8 1233.5,118.5 1235.5,119 1237,118.7 1237.5,118.9 1238.5,119.8 1239,119.6 1239.5,119.2 1240,119.2 1241.5,120.4 1243,121 1243.5,120.7 1244,120.1 1244.5,120 1246,121.4 1247,121.2 1248,121.7 1249.5,121.8 1251,122.7 1252,122.5 1253,123.3 1254.5,123.5 1256,124.1 1257,124.9 1259,126.1 1260.5,126.6 1262,126.1 1263,126.7 1264.5,128.3 1265,128.6 1266,128.7 1267,128.2 1267.5,128.1 1270,130.7 1270.5,130.9 1271.5,129.6 1272,129.3 1274.5,129.9 1275.5,130.5 1276.5,130.8 1278.5,130.5 1279,130.7 1280,131.8 1280.5,131.9 1281,131.6 1281.5,131.8 1282.5,133.3 1283,133.4 1284,133.3 1284.5,133.5 1286,135.5 1286.5,135.6 1287,135.4 1287.5,135.8 1288,136.7 1288.5,137.1 1290.5,137.1 1291,137.4 1292,139.7 1292.5,140.2 1293,140.2 1294,141 1295.5,141.1 1296,141.4 L1296,174.9 1294,174.6 1292.5,173.1 1290.5,172.3 1289.5,172 1288,169.4 1287.5,169.1 1286,169.2 1285.5,169.1 1285,168.5 1284,166.6 1282.5,165.1 1282,165 1281,165.5 1280.5,165.3 1279,163.3 1277.5,162.7 1276.5,162.7 1275.5,162.2 1274.5,162.6 1273,162.7 1272.5,162.5 1271,161 1270.5,160.9 1269.5,161.6 1269,161.3 1268,160.2 1267,160.7 1266.5,160.6 1263.5,158.3 1263,158.3 1261.5,159.3 1260,158 1256.5,156 1255,154.4 1254,154.1 1252.5,153 1251,152.6 1249.5,150.9 1249,150.8 1248.5,151 1248,150.9 1244,147.3 1242.5,146.6 1240.5,144.6 1240,144.4 1238.5,144.6 1237.5,143.8 1236,143.2 1234.5,142 1233.5,142.1 1232,141 1231,141 1229.5,140.6 1228,139.4 1226,138.6 1225,137.5 1224.5,137.4 1223.5,137.7 1222,136.8 1220.5,136.7 1219,137 1218.5,136.5 1217.5,134.8 1217,134.6 1216,135.1 1214.5,135.2 1213,134.3 1212,134.3 1210.5,133.4 1208,133.5 1205.5,132.8 1204,132.2 1203,132.9 1202.5,132.8 1201.5,131.6 1201,131.3 1200.5,131.1 1199.5,131.3 1198,130.7 1196.5,131 1196,130.9 1195,129.9 1194.5,129.8 1193.5,130.1 1193,130.1 1192,129.6 1190.5,129.2 1189,128.5 1186.5,126.6 1185.5,126.3 1184,126.4 1183,126.1 1182.5,125.8 1181,124.2 1180.5,123.8 1178,123.2 1176,122.4 1171.5,119.9 1169.5,119.1 1167,117.5 1165,117.3 1163,116.6 1161.5,115.7 1160,115.3 1158.5,114.4 1156.5,113.9 1154.5,112.5 1153,112.3 1151,111.3 1149.5,111 1147.5,110.3 1145.5,109.1 1142.5,108 1141,107.1 1139.5,107.2 1137,106.5 1133.5,106.7 1131.5,106.4 1130,106.6 1128.5,106.4 1125,106.4 1123,105.9 1121.5,106.1 1117,105.6 1115.5,105.7 1114,105.4 1112,105.5 1096,104.2 1094.5,103.7 1090,100.7 1088,99.9 1073,97.5 1070.5,96.9 1058,90.8 1055.5,89.9 1051.5,89.1 1038.5,87.4 1036.5,87.7 1034.5,88.4 995,105.5 985.5,110.4 983,112.1 975.5,118 974,118.9 972,119.7 776,167.7 771.5,168.6Z" fill="#1a1a1a" fill-opacity="0.43"/>
<path d="M771.5,148.8 775.5,148 973,98.8 976,97.6 984,92.4 987,90.9 1016.5,79.3 1032,73.9 1034,73.4 1035.5,73.3 1038,73.6 1048,75.9 1057,79.5 1060.5,81.3 1068.5,87.3 1071,88.4 1080.5,89.6 1096.5,92.8 1111.5,94.8 1118.5,95.1 1120,95.3 1126.5,95.3 1128.5,95.4 1130,95.3 1133,95.5 1137,96.4 1141,97.8 1142.5,97.9 1146,98.9 1147,98.9 1152,100.9 1153.5,101 1155.5,102.2 1157.5,102.9 1159,103.8 1162,104.7 1164,105.5 1165.5,106.4 1167.5,106.8 1169.5,108 1171.5,108.5 1172.5,109.2 1174,109.8 1175.5,110.8 1176.5,111 1178.5,112 1180.5,112.3 1182,113.4 1186,115.2 1187,116 1188.5,116.3 1190,117.2 1191.5,117.5 1193,118.7 1197,119.7 1199.5,121 1201,121 1202,121.3 1203.5,122 1205.5,122.2 1208,123.6 1210,123.5 1211.5,124.6 1213.5,124.9 1214.5,125.6 1216,125.6 1217.5,126.1 1219,126.2 1221,127.5 1225,128.7 1227.5,129 1228.5,129.7 1231,130.6 1235,131.6 1237,132.7 1239,133.2 1240,133.7 1241.5,133.3 1243.5,135.1 1245.5,135.2 1248,136.1 1249,136.2 1251,137.1 1253,137.5 1254,138.3 1254.5,138.6 1255.5,138.7 1256,139.1 1260,142.7 1261.5,142.8 1263,144.3 1263.5,144.4 1264,144.2 1264.5,144.2 1265.5,145.6 1266,146 1267,146.1 1268.5,146 1270.5,146.8 1272.5,147.1 1273,147 1274,146.5 1274.5,146.6 1277,148.2 1278.5,148.1 1280,149.2 1281.5,151 1282,151.4 1283.5,151.4 1284.5,152.1 1286,152.7 1287,153.9 1287.5,154.3 1288.5,154.1 1289,154.3 1292,156.6 1293.5,157.3 1294.5,158 1295.5,158.2 1296,158.6" fill="none" stroke="#06d0d2" stroke-width="4.0" stroke-linejoin="round" stroke-linecap="butt"/>
<path d="M771.5,229.3 827,229.3 830.5,229.1 834,228.4 961,196.8 1009,189.5 1057.5,183.5 1099.5,181.2 1103.5,181.1 1105.5,181.3 1107,181 1109.5,181.3 1111,181.8 1112.5,181.9 1119,183.7 1121,183.9 1122.5,184.7 1124,184.7 1128.5,186.4 1131,186.7 1132,187.2 1133.5,187.6 1137,189.1 1137.5,189.3 1138.5,189.2 1140,189.8 1141,189.9 1142.5,190.9 1145,191.8 1147,193.1 1148,194 1149,194.4 1150.5,195.6 1152,195.5 1154,196.3 1156,197.6 1157,198.7 1158,199.1 1159.5,200.5 1161.5,201.3 1162.5,201.2 1163.5,202.1 1165,202.9 1166,203.6 1166.5,203.7 1168.5,203.1 1169,203.1 1171,204.3 1172,204 1172.5,204.1 1173.5,205.4 1174,205.6 1175.5,205.7 1177,205.4 1178.5,206.9 1179.5,206.5 1180,206.6 1181,207.2 1182,207.5 1183.5,208.6 1184.5,208.7 1185.5,209.4 1186.5,209 1188,209.2 1189.5,209.1 1192,209.3 1193.5,209.8 1194.5,209.3 1195,209.4 1196.5,210.5 1198,211.2 1199.5,211.4 1200,211.2 1201,210.2 1201.5,210.3 1202.5,211.2 1204.5,212.5 1206,212.1 1207,212.7 1209,213.3 1210,213.9 1211.5,214.5 1213.5,215.9 1215.5,216.7 1217,218.2 1218,218.5 1219,219.3 1220.5,219.4 1221.5,220.9 1222,221.2 1223,221 1224,221.3 1225,221.2 1225.5,221.6 1227.5,224 1228,224.2 1228.5,224.1 1230.5,224.7 1232,224.3 1233.5,225.2 1234.5,225.4 1235,225.2 1236,224.5 1237,224.7 1238,224.4 1238.5,224.5 1239.5,225.6 1240,225.9 1241.5,226.5 1242.5,226.6 1243.5,227.1 1244,227 1245.5,226.1 1246,226 1247,226.2 1248,225.6 1248.5,225.7 1249.5,226.9 1250.5,227.4 1251.5,227.5 1252,227.7 1253.5,227.2 1255.5,228.3 1257,228.4 1258.5,228 1259.5,228.6 1260.5,228.7 1261.5,229.8 1262,230.1 1262.5,229.8 1263.5,228.4 1264,228.3 1265,228.4 1266.5,230.3 1267.5,231.4 1268,231.7 1269,231.2 1269.5,231.1 1270.5,230.1 1272,229.5 1272.5,229.6 1273.5,230.5 1274.5,230.3 1275.5,231.5 1277,232.4 1278,231.8 1279.5,233.4 1280.5,233.1 1281,233.2 1282,234.6 1282.5,234.9 1283.5,234.6 1285,233.3 1285.5,233.2 1286.5,234.2 1287.5,234.4 1288.5,235 1289.5,234.9 1290,235.2 1291,236.4 1292.5,236.8 1293.5,238.2 1294.5,237.9 1295,238 1296,238.6 L1296,280.3 1295,280.9 1294.5,280.8 1294,280.4 1293.5,280.3 1292.5,281.5 1292,281.8 1291.5,281.7 1291,282.2 1290,283.8 1289.5,283.8 1288.5,283.4 1287.5,282.5 1287,282.3 1286,282.7 1285,282.5 1283.5,280.5 1282.5,280.3 1282,279.9 1280,277.5 1278,275.9 1277.5,276 1277,275.7 1276.5,274.8 1276,274.3 1275,274.7 1274.5,274.6 1273.5,273.5 1272,273.6 1270,272.9 1269,272.2 1268,270.8 1267.5,270.4 1267,270.4 1266,270.9 1265.5,270.8 1264.5,269.3 1262.5,268.8 1261.5,269.4 1261,269.2 1260,267.9 1258.5,267.3 1258,266.9 1257.5,266.3 1256.5,264.4 1256,264 1255.5,264.1 1254,266.2 1253,266.1 1252.5,266 1251,263.8 1250.5,263.9 1250,264.2 1249.5,264.2 1248.5,262.5 1248,262.6 1247,264 1246,264.4 1244.5,265.4 1244,265.5 1243,265 1242.5,265 1240.5,265.1 1240,265.3 1239,266.7 1238,266.7 1237,267.4 1236,267.1 1234.5,268.5 1234,268.7 1233,267.9 1232,268 1231.5,267.9 1231,268 1230,269.3 1229.5,269.4 1228.5,268.3 1228,268.4 1227.5,268.8 1227,268.6 1226,267.3 1225.5,266.9 1224.5,266.5 1224,266 1221.5,263.2 1219,261.9 1217.5,259.5 1217,259.4 1215.5,259.5 1214,259 1212.5,257.8 1211.5,256.3 1211,256 1210,256.5 1208,255.5 1207.5,255.4 1206,255.7 1203.5,254.8 1202.5,255 1202,254.8 1201,253.5 1200.5,253.3 1198,254 1196.5,252.5 1196,252.4 1195,252.8 1194,252.9 1192.5,252.4 1190,250.9 1189,251.4 1187.5,250.6 1186.5,250.8 1186,250.7 1185,249.9 1184,250.4 1183.5,250.4 1182.5,249.6 1182,249.5 1181,249.7 1180,249.2 1179,249.6 1178.5,249.6 1177.5,248.9 1176.5,249 1176,248.9 1175,248 1174.5,247.9 1173.5,248.1 1173,247.9 1171.5,247 1169.5,246.8 1168,246.2 1167,246.2 1166,245.5 1165.5,245.4 1164.5,245.7 1164,245.7 1161.5,244 1160.5,243.9 1159,243.3 1157.5,243 1155,241.4 1154,241.5 1151,240.7 1148.5,239.1 1146,238.6 1145,238 1142,237 1138.5,235.2 1136.5,234.6 1134.5,233.4 1131,232.6 1130,232.1 1129,231.8 1127,230.5 1126,230.4 1123.5,229.3 1120.5,228.5 1117,228.1 1113.5,228.9 1107,229.5 1102.5,230.3 1090.5,234.9 1063.5,246.2 1058.5,248.5 1042,257.5 1040,259 1037,262.2 1035.5,263.2 1034.5,263.2 1033.5,262.8 1027.5,258.1 1025,256.7 1011,252.8 1006.5,252.2 986.5,251 983.5,251 980.5,251.7 962,257.8 958,259 831.5,288.4 827,288.7 771.5,288.7Z" fill="#b4b4b4" fill-opacity="0.469"/>
<path d="M771.5,382.2 775.5,381.4 969.5,334.8 1041.5,326 1084.5,321.7 1094,321.7 1099,322.1 1105,322.1 1106,322.3 1108,322.1 1110.5,322.3 1112,322.6 1116.5,322.8 1118,322.6 1121,323.1 1122,323.5 1123.5,323.2 1125.5,323.8 1126.5,323.9 1128,324.5 1129,324.4 1130.5,324.9 1132,325 1135.5,326.1 1137.5,326 1141,327.6 1142.5,327.3 1144.5,327.5 1146,328.1 1150,328.6 1151.5,329.3 1154,329.6 1155,329.9 1156,329.8 1156.5,330 1157.5,330.8 1158,330.8 1159.5,330.2 1161.5,331.2 1163,331.4 1164.5,331.3 1166.5,332.1 1168,331.7 1169.5,331.9 1171,332.4 1172.5,332.2 1174,332.3 1175.5,333.3 1177,333.2 1179,334.2 1179.5,334.1 1181,333.5 1182.5,334.1 1183.5,334.1 1184,334.2 1185,334.8 1186,335 1189,337.9 1190,338.1 1191,338.9 1192.5,339.2 1194.5,341.1 1198,343.3 1198.5,343.3 1199.5,342.7 1200,343 1201,344.6 1201.5,345 1202.5,345.2 1203.5,345.7 1205,347.6 1206,348 1207.5,349.6 1208.5,349.9 1209,349.8 1210,349.1 1210.5,349.1 1212,350.9 1213,351.2 1214,351.9 1215,351.6 1215.5,351.8 1217,353.3 1217.5,353.5 1218.5,353.2 1219.5,354.6 1221,356.3 1221.5,356.7 1222.5,356.9 1224.5,357.8 1226,359.6 1227,359.9 1228,361 1229,361.2 1232,366.1 1233,366.6 1233.5,366.5 1234,366 1234.5,365.9 1236.5,368.5 1237.5,370.2 1239,372 1239.5,372.1 1240.5,371.5 1241,371.5 1244.5,374.6 1245.5,376 1246,376.2 1246.5,376.1 1247,376.2 1248,377.4 1248.5,377.7 1249.5,377.5 1250.5,377.9 1251.5,378 1252.5,379.4 1253.5,379.6 1256,381.5 1257,381.1 1258,381.7 1258.5,381.8 1260,383.9 1260.5,383.8 1262,382.2 1262.5,382.4 1263.5,383.4 1264.5,383.9 1266,385.8 1266.5,385.7 1267.5,384.8 1268,384.8 1269.5,386.6 1270,386.7 1271,386.2 1271.5,386.7 1272,387.7 1272.5,388.2 1273.5,388.3 1274,388.7 1275,390.3 1276,390.1 1277,390.7 1279,390 1280,390.9 1280.5,391.1 1281.5,390.1 1282,390.2 1283.5,392.1 1284.5,392.5 1285,392.5 1285.5,392.1 1286,392.1 1287,393.1 1288,393.5 1289,394.6 1289.5,394.7 1290,394.2 1290.5,394 1291,394.2 1292,394.1 1293,395.2 1294,395.2 1295,395.9 1296,395.6 L1296,440.9 1295.5,447.7 1295,440.3 1294.5,438.6 1294,440.8 1293.5,448.7 1293,441.7 1292.5,438.9 1292,439.9 1291.5,446.2 1291,441.9 1290.5,439.8 1290,440.6 1289.5,445.4 1289,443.5 1288.5,439.8 1288,439 1287,443.2 1286.5,439 1286,437.9 1285.5,439.6 1285,446.2 1284.5,440.5 1284,438.8 1283.5,439.3 1283,442.2 1282.5,442.5 1282,436.9 1281.5,434.9 1281,436.3 1280.5,441.7 1279.5,436.6 1279,436.6 1278.5,438.7 1278,445.2 1277.5,438.9 1277,436.6 1276.5,436.7 1276,438.7 1275.5,445.7 1275,437.2 1274.5,434.5 1274,434.4 1273.5,436.6 1273,442.8 1272.5,435.9 1272,432.3 1271.5,431.6 1271,433.4 1270.5,438.5 1269.5,433 1269,432.1 1268.5,432.9 1267.5,437.2 1267,431.8 1266.5,430.1 1266,430.4 1265.5,431.9 1265,436.1 1264,429 1263.5,427.8 1263,428.6 1262.5,431.1 1262,437.7 1261.5,431.4 1261,427.9 1260.5,426.5 1260,427.5 1259.5,430.2 1259,436.9 1258.5,429.7 1258,426.9 1257.5,426.1 1257,426.9 1256.5,429.5 1256,434.6 1255,426.6 1254.5,425.3 1254,425.7 1253.5,426.8 1253,429.3 1252.5,430.2 1252,425 1251.5,423.1 1251,423.3 1250.5,424 1250,425.3 1249.5,429.6 1249,427.8 1248.5,424.6 1248,422.6 1247.5,421.6 1247,421.9 1246.5,424.1 1246,429.1 1245,422.3 1244.5,420.3 1244,419.8 1243.5,420.9 1243,423 1242.5,426.7 1242,426.8 1241.5,422.3 1241,419.8 1240.5,418.9 1240,419.1 1239.5,420.2 1239,423.2 1238.5,429.4 1237.5,419.6 1237,417.4 1236.5,416.5 1236,416.6 1235.5,417.8 1235,420.2 1234.5,427.2 1234,419.7 1233,413.7 1232.5,412.7 1232,413.1 1231.5,414.5 1231,417 1230.5,421.9 1230,420 1229,414 1228,411 1227.5,411 1226.5,415.5 1226,421.1 1225.5,414.6 1225,411.3 1224.5,409.5 1224,408.7 1223.5,408.5 1222.5,410.3 1222,412.1 1221.5,415.7 1220.5,409.1 1220,407.5 1218.5,404.4 1218,404.7 1217,408.8 1216.5,414.6 1216,407.2 1215.5,404.2 1214.5,400.9 1214,400.4 1213,401 1212.5,401.7 1212,403.4 1211.5,406.8 1210,399.6 1208.5,396.6 1208,396.4 1207.5,397.2 1207,398.7 1206,403.4 1205,397.5 1204.5,395.6 1203,391.7 1202.5,391.3 1202,391.5 1201,393 1200.5,394.5 1200,398.3 1199.5,393.8 1199,391.2 1198.5,389.5 1197,387.2 1196.5,387.2 1196,387.7 1195,389.4 1193.5,394.2 1192.5,388.9 1192,386.8 1191.5,385.6 1191,385.2 1189.5,384.6 1189,384.6 1188.5,385.2 1188,386.5 1187,390.9 1186,386.5 1185,383.4 1184,381.7 1183.5,381 1183,380.9 1182,380.6 1181.5,380.8 1181,381.5 1180,384.3 1179.5,387.9 1178.5,382.8 1177.5,379.4 1177,378.5 1175.5,377.4 1174.5,377.4 1174,377.8 1173,379.2 1172,382.2 1171.5,385 1171,384.3 1170,380.2 1169,377.3 1167.5,375.5 1166.5,374.9 1166,375 1165.5,375.6 1164,378.1 1163,380.6 1162.5,383 1162,381.9 1161.5,379.6 1160.5,376.4 1160,375.5 1159.5,375 1158,374.3 1156,374.2 1155.5,374.4 1154.5,375.4 1153.5,377 1152.5,380.8 1152,380.4 1151,376.4 1149.5,373.1 1149,372.6 1147.5,372.1 1146,371 1145.5,370.8 1144.5,371.6 1142.5,374.3 1141.5,376.8 1141,379.4 1140,375.7 1139,372.9 1136.5,369.6 1135.5,368.7 1132.5,369.2 1131.5,369.6 1130.5,370.9 1129,373.4 1128,376.7 1127.5,376.5 1126.5,373.2 1124.5,369.5 1123,367.5 1122,366.7 1120.5,366.2 1118,366.3 1117.5,366.5 1116,367.6 1115,368.5 1114,370 1113,372 1112.5,373.7 1112,374.4 1111,371.2 1110,369.2 1109,367.9 1105.5,365.3 1103.5,365.1 1102,365.3 1100,366.1 1097.5,368.1 1096,369.9 1095,371.4 1093,376 1092.5,374.2 1091,371.6 1089.5,370.1 1087.5,368.9 1085.5,368.2 1083.5,368.1 1081.5,368.4 1079,369.2 1075.5,371.3 1072,374.4 1070.5,376.3 1069.5,377.9 1068.5,380.8 1068,379 1067.5,378.1 1066.5,376.9 1065,375.7 1062,374.3 1060.5,373.9 1058.5,373.7 1056,374 1053.5,374.5 1050.5,375.5 1047.5,376.7 1040,380.7 1035,383.8 1034,384.7 1033.5,384.5 1032.5,383.4 1031,382.4 1029.5,381.7 1027.5,381.2 1025,381 1021.5,381.7 1019.5,381.9 1010,380.6 1008,380.6 1006,381.1 987,386.3 984.5,387.2 983,388.1 981.5,389.3 971,398.6 969.5,399.5 967.5,400.3 775.5,447.1 771.5,447.9Z" fill="#1a1a1a" fill-opacity="0.43"/>
<path d="M771.5,258.9 827,258.9 831.5,258.6 939,232.5 980,221.9 984,221.1 999.5,218.8 1003.5,218.7 1020.5,220.8 1023.5,221.8 1031.5,225.5 1033,225.8 1034,225.8 1036.5,224.8 1051.5,216.5 1054.5,215.3 1073.5,211.6 1092.5,207 1098,205.9 1111,203.8 1113,204 1118,204.1 1120.5,204.4 1122.5,205.4 1124.5,205.8 1128.5,207.3 1130.5,207.7 1136,210.1 1138,210.2 1141,211.4 1144.5,213.5 1146,214 1150,216.3 1153,217.8 1155.5,219.6 1158,221 1161.5,222.3 1163,223.4 1166,224.4 1167,224.5 1170,226.4 1171.5,226.3 1173.5,227.4 1174.5,227.7 1176.5,227.4 1178.5,228.9 1179.5,229.1 1183.5,229.2 1185,229.6 1187.5,229.8 1189.5,229.6 1191.5,229.9 1194,229.8 1195.5,230.6 1198.5,230 1200,230 1201,230.3 1202.5,230.2 1203,230.4 1204,231.2 1205,231.1 1206.5,231.5 1208,232.8 1210.5,233.4 1214,235.1 1216,236.9 1216.5,237.2 1217.5,237.3 1219,238.6 1220.5,239.1 1222.5,241.6 1224.5,242.7 1225.5,243.5 1228.5,246.7 1229.5,246.1 1234.5,246.8 1236,246 1237,246.1 1239,245.8 1240.5,245.4 1241.5,245.9 1242,245.9 1243,245.3 1244.5,245.1 1246,246.1 1247.5,246.6 1248.5,247.3 1249,247.4 1250,246.7 1250.5,246.8 1251.5,247.6 1253,247.4 1253.5,247.5 1256.5,249.3 1258.5,248.7 1259.5,249.6 1260.5,249.5 1261.5,249.8 1263,250 1263.5,250.2 1264.5,251.3 1265,251.4 1266,251.3 1267,251.7 1268.5,250.7 1270,252.2 1272.5,251.6 1274,250.9 1274.5,251.3 1276,253.3 1279.5,254.9 1282.5,257.4 1284,258.9 1286,259.7 1287.5,260.8 1289,259.8 1291,260.1 1292,260 1293.5,259 1295,258.9 1296,259.3" fill="none" stroke="#ff6608" stroke-width="4.0" stroke-linejoin="round" stroke-linecap="butt"/>
<path d="M771.5,415.5 775.5,414.7 967.5,367.1 971.5,365.7 985,359 988.5,357.9 1011,353.8 1014,353.4 1016.5,353.6 1023.5,354.8 1029.5,355 1031.5,355.5 1034,356.5 1036,355.8 1042.5,352.6 1046.5,351 1050,349.9 1053.5,349.5 1057,349.7 1060,350.5 1063.5,352.3 1068.5,355.5 1075.5,349.2 1078,347.5 1080.5,346.3 1083.5,345.8 1086.5,346.1 1089.5,347.4 1093,349.6 1093.5,349.4 1096.5,346.5 1099.5,344.4 1102,343.5 1104,343.5 1105.5,343.9 1108.5,345.6 1109.5,346.4 1112,349.4 1112.5,349.3 1114.5,347.3 1118,345 1119,344.7 1119.5,344.8 1123.5,346.6 1125.5,348.6 1127.5,351.4 1128,351.4 1131.5,347.6 1133,346.7 1135.5,347 1137.5,348.2 1138.5,349.1 1141,352.4 1144,349 1144.5,348.8 1147,348.9 1150.5,352.2 1152,354.5 1152.5,354.8 1154.5,353.2 1155.5,352.6 1157,352.3 1158.5,352.5 1159,352.9 1161,355.4 1162,357.2 1162.5,357.7 1163.5,356.2 1164,355.8 1165.5,355.4 1167.5,355.5 1168,355.7 1169,357 1171,361.3 1171.5,361.7 1173.5,359.4 1175.5,359.1 1176.5,359.7 1177.5,360.8 1179.5,364.5 1180,364.3 1181.5,362.6 1182,362.4 1182.5,362.4 1184.5,363.5 1186.5,367 1187,367.4 1189,365.4 1190,365.2 1190.5,365.6 1191,366.4 1193.5,371.8 1194,372 1195,371.5 1196,371.3 1197,371.6 1198,373 1200,377.1 1200.5,376.6 1201,376.5 1201.5,376.6 1204,378.8 1204.5,379.5 1206,382.8 1207.5,381.5 1208.5,381.3 1209,382 1211,387.2 1211.5,387.4 1212,386.4 1212.5,385.8 1213,385.7 1214,386.3 1214.5,387.1 1216.5,392.1 1218.5,389.7 1219,389.4 1219.5,389.6 1221.5,393.9 1222.5,393.7 1223.5,392.6 1224,392.4 1225,393.3 1226,396.1 1226.5,395.5 1227.5,393.3 1228,393.5 1229,395 1230.5,398.3 1231.5,397.2 1232,396.9 1232.5,396.8 1233,397.1 1233.5,397.8 1234.5,399.7 1235,398.8 1235.5,398.9 1236,399.5 1237.5,400.2 1238.5,402.1 1239.5,400.8 1240.5,400.2 1241,401 1242,404.2 1242.5,404.6 1244,402.2 1244.5,402.1 1246,407.3 1247,405 1247.5,404.5 1248,404.4 1248.5,405.1 1249.5,407.7 1251,405.6 1251.5,405.6 1252,406.2 1252.5,407.6 1253.5,407.8 1255,408.9 1256,411.2 1257,408.8 1257.5,409 1259,411.9 1259.5,410.7 1260,410.1 1260.5,409.9 1261,410.4 1262,413.7 1263,412.1 1263.5,411.9 1264,412.7 1264.5,414.5 1265,415.6 1265.5,414.2 1266,413.4 1266.5,413.9 1267.5,416.4 1268.5,415.2 1269,415.3 1270,418.3 1270.5,418.8 1271,417.2 1271.5,416.6 1272,416.8 1272.5,417.5 1273,418.9 1274,416.6 1274.5,416.7 1275.5,420.7 1276.5,418.3 1277,418.1 1277.5,419.5 1278,422 1279,420.7 1279.5,420.5 1280.5,422.4 1281,421.4 1281.5,421.1 1282,421.8 1282.5,423.6 1283,423.3 1283.5,422 1284,422 1285,425.6 1286,422.5 1286.5,422.3 1287,423.9 1287.5,424.1 1288,423.7 1288.5,424.6 1289,426.4 1289.5,427 1290,424.9 1290.5,424.3 1291.5,427.8 1292,426 1292.5,425.6 1293,426.8 1293.5,428.9 1294,427.1 1294.5,426.4 1295,427.3 1295.5,429.5 1296,427.6" fill="none" stroke="#b272e6" stroke-width="4.0" stroke-linejoin="round" stroke-linecap="butt"/>
<path d="M771.5,253.7 827,253.7 831,253.5 969.5,221.2 971.5,220.9 974,220.7 979.5,220.8 982,221.2 985,222.3 1001,229.1 1004,230.9 1017.5,239.9 1019.5,241.4 1021.5,243.3 1032.5,255.4 1038,259.9 1041,261.9 1060.5,271.1 1091.5,287.1 1096,289.3 1098.5,290.8 1109.5,295.9 1111.5,297.3 1113.5,298 1116.5,299.9 1120.5,301.6 1124.5,303.8 1128.5,305.4 1130,306.5 1131.5,307.1 1132.5,307.8 1135.5,309.1 1137.5,310.2 1140,311.7 1141,312.6 1141.5,312.8 1142.5,312.6 1143,312.7 1144,313.5 1146.5,315.1 1148,315.7 1150,317.1 1151.5,317.5 1157,321.6 1158.5,322.1 1160,323.4 1161.5,323.4 1162.5,324.3 1163,324.3 1164,323.9 1165.5,325 1167,325.6 1167.5,325.7 1168.5,325.5 1169,325.7 1172.5,327.8 1174,329.2 1175.5,328.9 1178.5,329.8 1180,329.6 1181.5,331 1183,331.4 1184,331.4 1184.5,331.7 1186,333.2 1186.5,333.3 1187.5,333.1 1189,335.6 1189.5,336 1191,336.5 1192,337.5 1193.5,338.3 1195,340.5 1196.5,340.9 1198,342.5 1199,342.7 1202.5,346.3 1203.5,346.3 1206,347 1207,346.9 1208.5,348.7 1210,349.5 1212.5,349.5 1213,349.3 1214,348.4 1214.5,348.6 1215.5,350 1217,351 1219,350.9 1220,352.4 1220.5,352.7 1221.5,352.6 1223.5,353.1 1224,353 1224.5,353.4 1225,354.1 1225.5,354.5 1226,354.5 1227,355.2 1227.5,355.1 1228.5,354.4 1230.5,354.6 1232,355.6 1232.5,355.4 1233,354.7 1233.5,354.5 1234,354.9 1235.5,357 1237,356.3 1240,358.9 1240.5,358.7 1241.5,357.3 1242,357.6 1242.5,358.3 1243,358.4 1243.5,358.3 1244,358.4 1245.5,360.3 1247.5,360.7 1248.5,360.4 1249.5,361 1250.5,362 1253,362.3 1254.5,363.7 1255.5,363.2 1257,365 1257.5,364.9 1258.5,364.4 1260,364.7 1263,367.3 1263.5,367.4 1264,367.2 1264.5,367.4 1265.5,369.1 1266,369.3 1267,368.7 1268.5,369.9 1269.5,369.7 1270.5,370.9 1271,371.1 1272.5,370 1274,372.2 1275,373.3 1275.5,373 1276,372.2 1276.5,371.9 1277.5,373.4 1278.5,374.1 1280,377 1280.5,377.3 1282,377.1 1283,375.4 1283.5,376.1 1284,377.4 1285,378.1 1286,379.7 1286.5,379.7 1287,379 1287.5,379.1 1288.5,380.8 1290,381.3 1290.5,381.3 1291.5,380.6 1292,381.1 1293,382.9 1294,383.3 1295,385.3 1295.5,385.4 1296,384.9 L1296,422.7 1295.5,431.7 1295,423 1294.5,420.6 1294,422.3 1293.5,430.6 1293,422.1 1292.5,419.7 1292,421 1291.5,427.4 1291,421 1290.5,417.9 1290,418.7 1289.5,424 1288.5,417.6 1288,417.2 1287.5,420.3 1287,421.9 1286.5,417.2 1286,416.4 1285.5,418.3 1285,425.7 1284.5,418.7 1284,416.2 1283.5,416.5 1283,419.9 1282.5,420.8 1282,415.8 1281.5,414.5 1281,416.6 1280.5,422.8 1279.5,414.7 1279,413.7 1278.5,416.3 1278,423.9 1277.5,416.8 1277,414 1276.5,414 1276,416.1 1275.5,424 1275,415 1274.5,412.5 1274,412.9 1273.5,415.5 1273,422.3 1272.5,415.7 1272,413.1 1271.5,412.9 1271,414.4 1270.5,418.5 1269.5,411.1 1269,410.2 1268.5,411 1267.5,417 1267,411.7 1266.5,409.6 1266,409.7 1265.5,412.1 1265,417.1 1264,408.8 1263.5,406.9 1263,407.4 1262.5,410 1262,416.9 1261.5,410.2 1261,406.5 1260.5,405.4 1260,406.6 1259.5,409.2 1259,416.2 1258.5,409.6 1258,407 1257.5,405.6 1257,405.4 1256.5,407.1 1256,411.9 1255,404.2 1254.5,402.5 1254,402.6 1253.5,404 1253,407.6 1252.5,409.3 1252,404.4 1251.5,402.2 1251,401.9 1250.5,402.9 1250,405 1249.5,409.3 1248.5,402.8 1248,401 1247.5,400.7 1247,402.1 1246.5,405.1 1246,410.3 1245,402.7 1244.5,400.4 1244,400.3 1243.5,401.1 1243,402.4 1242.5,405.8 1242,406 1241.5,402 1241,399.8 1240.5,398.4 1240,397.8 1239.5,399.1 1239,402.4 1238.5,408.8 1237.5,400.2 1237,398.2 1236.5,397.3 1236,398 1235,402.5 1234.5,409.1 1234,401.7 1233.5,398.7 1233,396.9 1232.5,396 1232,395.8 1231.5,396.9 1231,399.9 1230.5,404.9 1230,402.8 1229,395.8 1228.5,394.2 1228,393.9 1227.5,394.8 1227,396.6 1226.5,399.6 1226,405.8 1225.5,399.8 1225,396.5 1224.5,394.2 1224,393 1223.5,392.5 1223,392.8 1222.5,394.1 1222,396.6 1221.5,401 1220.5,394.2 1220,391.8 1219.5,390.8 1219,390.8 1218.5,391.3 1217.5,393 1217,395.3 1216.5,402.1 1216,395.1 1215.5,392.6 1215,391.1 1214,389.4 1213.5,388.9 1213,389 1212.5,390.3 1211.5,396.6 1210,388 1209,385.4 1208.5,385.2 1208,385.3 1207.5,385.7 1207,387.1 1206.5,389.7 1206,394.2 1205.5,392.3 1205,388.5 1204,383.5 1203.5,382.3 1203,381.6 1202.5,381.5 1202,381.9 1201.5,382.8 1201,384.1 1200.5,386.3 1200,391.4 1199.5,385.8 1199,382.4 1198.5,380.4 1197.5,378.2 1197,378 1196.5,378.1 1195.5,378.9 1195,379.7 1194,384.1 1193.5,385.2 1193,380.9 1192,376.4 1191.5,375.3 1190,374.4 1189.5,374.6 1188,377.1 1187.5,378.6 1187,381.6 1185.5,374 1184,370.2 1183.5,369.4 1183,369.1 1182.5,369.2 1182,369.6 1181.5,370.5 1180,374.5 1179.5,378 1178.5,371.5 1178,369.5 1177,367.4 1175,364.8 1174.5,364.6 1173,366 1172.5,367 1172,368.8 1171.5,371.7 1171,370.9 1170.5,368.3 1169.5,364.8 1168.5,362.9 1167,361.1 1166.5,360.9 1166,361 1163.5,363.8 1163,365.3 1162.5,368.1 1162,367.2 1161,362.7 1160,360 1159.5,359 1158.5,358.1 1157.5,356.6 1157,356.5 1155.5,356.9 1155,357.5 1153.5,360 1153,361.3 1152.5,363.4 1152,362.9 1151,358.7 1150,356 1148,352.7 1147,351.6 1146.5,351.4 1144.5,352.6 1143.5,352.6 1143,352.9 1141.5,355.5 1141,357.7 1140,353.6 1139.5,352.4 1136,346.2 1132.5,344 1132,343.8 1131.5,343.9 1130,344.9 1129.5,345.5 1128.5,347.1 1128,348.5 1127.5,348.1 1127,346.1 1126,343.5 1124,340.3 1122,337.7 1119.5,336.1 1116.5,335.9 1114,338 1113,339.3 1112.5,340.4 1112,340.5 1111.5,338.5 1110,334.6 1107.5,330 1107,329.3 1104.5,326.6 1102.5,324.7 1101.5,324 1099.5,323.2 1096.5,323.1 1094.5,324 1093,325.7 1092,322.8 1090.5,320.6 1088,318.8 1084.5,317.7 1082,317.6 1079.5,317.9 1077,318.5 1072.5,320.1 1071.5,320.1 1070.5,319.7 1069,318.6 1068.5,318.4 1067.5,314.7 1066,310.9 1065,309.1 1063.5,307.5 1060.5,305.6 1056.5,302.6 1054.5,301.5 1052.5,300.9 1042,298.8 1040.5,298.3 1039,297.5 1035,294.5 1032.5,292.2 1024,281.6 1022.5,280.5 1021,280 987.5,277.9 983.5,278 834.5,313.3 830.5,314.1 827,314.3 771.5,314.3Z" fill="#b4b4b4" fill-opacity="0.469"/>
<path d="M771.5,285 827,285 830.5,284.8 834.5,284 975.5,249.3 978,249 981.5,249.3 1000,252.1 1002,252.7 1004,253.6 1021.5,262.5 1024,264.6 1031,273.5 1033.5,275.8 1036,277.2 1044.5,281.4 1057,285.9 1059.5,287.1 1061.5,288.5 1064.5,291.1 1066.5,293.3 1068.5,296.2 1069,296.5 1071.5,297.1 1075.5,297.1 1078,297.3 1080.5,298 1083,299.3 1085,300.9 1087.5,303.3 1093,310.3 1093.5,310.4 1099,308.5 1100.5,308.5 1101.5,308.6 1104,309.4 1105.5,310.6 1108.5,313.8 1112,318.8 1112.5,318.9 1115,317.4 1116,317 1120,317.4 1123,319.5 1127.5,327.4 1128,327.6 1129.5,326.2 1132.5,324.7 1135,325.7 1136,326.5 1137.5,328.7 1139.5,331.8 1141,334.8 1143,332.8 1144,332.3 1145.5,331.9 1147,332 1147.5,332.2 1148.5,333.4 1149.5,335 1152,340.2 1152.5,340.7 1154.5,338.6 1156,338.1 1157,338.4 1158.5,339.1 1159,339.6 1162,345.2 1162.5,345.9 1164.5,343.8 1165.5,343 1166.5,343.1 1167.5,343.6 1168.5,345 1171,351.3 1171.5,351.8 1173.5,348.8 1174,348.4 1175.5,348.1 1176,348.3 1177.5,350.6 1179.5,354.7 1180,354 1182,352 1182.5,351.8 1183.5,352 1185,353.9 1186.5,357.8 1187,358.6 1188.5,356.5 1189.5,355.7 1190,355.6 1191.5,356.5 1193.5,361.3 1194,361.4 1195.5,360.2 1196.5,358.9 1197,359.1 1199,363.3 1200,366 1201,365.1 1202,363.7 1202.5,363.5 1203,363.7 1203.5,364.3 1206,369.5 1207,367.9 1208,367.4 1208.5,367.4 1210.5,370.3 1211.5,372.6 1212.5,371.5 1213.5,369.7 1214,369.3 1214.5,369.8 1216.5,375.4 1217.5,373.2 1218,372.5 1219,371.7 1219.5,371.6 1220,372.2 1221,375.6 1221.5,376.1 1222.5,373 1223,372.7 1224.5,373.1 1225,373.7 1226,376.1 1227.5,373.9 1228,373.5 1228.5,373.8 1229,374.8 1230,378.1 1230.5,378.8 1231.5,376.2 1232,375.8 1233,375.6 1233.5,375.7 1234,376.8 1234.5,378.7 1236,376 1236.5,375.9 1238,379.3 1238.5,380.9 1240.5,378 1241,378.6 1242,381.8 1242.5,381.7 1243.5,379.4 1244,379.2 1244.5,380 1245.5,383.5 1246,384.6 1247,382.4 1247.5,381.6 1248,381.2 1248.5,381.9 1249,383.4 1249.5,384.2 1250,382.9 1250.5,382.3 1251,382.5 1251.5,383.6 1252.5,386.9 1253,386.2 1253.5,384.4 1254,383.7 1254.5,384.1 1256,387.9 1256.5,386.1 1257,385.2 1257.5,385.5 1259,390.3 1260,386.8 1260.5,386.6 1261,387.4 1262,391.3 1263,388.8 1263.5,388.6 1264,389.2 1265,391.6 1265.5,390.2 1266,389.7 1266.5,390.1 1267.5,393.4 1269,389 1269.5,389.6 1270.5,394 1271.5,392 1272,392.2 1273,396.3 1274,393.3 1274.5,393.3 1275.5,398.5 1276.5,395.3 1277,395.1 1277.5,396.4 1278,398.9 1278.5,396.8 1279,396 1279.5,397 1280,399 1280.5,399.5 1281,396.3 1281.5,394.9 1282,396 1282.5,399.1 1283,399.6 1283.5,398.3 1284,398.1 1285,401.9 1285.5,399.1 1286,397.7 1286.5,398.7 1287,401.1 1287.5,400.3 1288,398.6 1288.5,398.4 1289,399.8 1289.5,400.5 1290,398.7 1290.5,398.7 1291.5,402.7 1292,400.3 1292.5,399.8 1293,402.2 1293.5,406 1294,403.8 1294.5,402.6 1295,404 1295.5,407 1296,404" fill="none" stroke="#d49c04" stroke-width="4.0" stroke-linejoin="round" stroke-linecap="butt"/>
<text x="1125.4" y="86.0" font-family="Liberation Serif" font-size="28.6" font-weight="bold" text-anchor="start" fill="#3a3636" textLength="107.6" lengthAdjust="spacingAndGlyphs">S3 Snaps</text>
<text x="1125.3000000000002" y="194.5" font-family="Liberation Serif" font-size="28.6" font-weight="bold" text-anchor="start" fill="#3a3636" textLength="107.6" lengthAdjust="spacingAndGlyphs">S4 Snaps</text>
<text x="817.9" y="325.2" font-family="Liberation Serif" font-size="28.6" font-weight="bold" text-anchor="start" fill="#3a3636" textLength="181.2" lengthAdjust="spacingAndGlyphs">S4 Background</text>
<text x="817.9" y="439.0" font-family="Liberation Serif" font-size="28.6" font-weight="bold" text-anchor="start" fill="#3a3636" textLength="181.2" lengthAdjust="spacingAndGlyphs">S3 Background</text>
<path d="M169.30,540.53 L169.30,14.40 L695.50,14.40 L695.50,540.53 Z" fill="none" stroke="#000" stroke-width="3" stroke-linejoin="miter"/>
<line x1="153.80" y1="492.70" x2="169.30" y2="492.70" stroke="#000" stroke-width="3"/>
<line x1="153.80" y1="397.04" x2="169.30" y2="397.04" stroke="#000" stroke-width="3"/>
<line x1="153.80" y1="301.38" x2="169.30" y2="301.38" stroke="#000" stroke-width="3"/>
<line x1="153.80" y1="205.72" x2="169.30" y2="205.72" stroke="#000" stroke-width="3"/>
<line x1="153.80" y1="110.06" x2="169.30" y2="110.06" stroke="#000" stroke-width="3"/>
<line x1="153.80" y1="14.40" x2="169.30" y2="14.40" stroke="#000" stroke-width="3"/>
<line x1="169.50" y1="540.53" x2="169.50" y2="555.53" stroke="#000" stroke-width="3"/>
<line x1="228.46" y1="540.53" x2="228.46" y2="547.53" stroke="#000" stroke-width="3"/>
<line x1="262.94" y1="540.53" x2="262.94" y2="547.53" stroke="#000" stroke-width="3"/>
<line x1="287.41" y1="540.53" x2="287.41" y2="547.53" stroke="#000" stroke-width="3"/>
<line x1="306.39" y1="540.53" x2="306.39" y2="547.53" stroke="#000" stroke-width="3"/>
<line x1="321.90" y1="540.53" x2="321.90" y2="547.53" stroke="#000" stroke-width="3"/>
<line x1="335.01" y1="540.53" x2="335.01" y2="547.53" stroke="#000" stroke-width="3"/>
<line x1="346.37" y1="540.53" x2="346.37" y2="547.53" stroke="#000" stroke-width="3"/>
<line x1="356.39" y1="540.53" x2="356.39" y2="547.53" stroke="#000" stroke-width="3"/>
<line x1="365.35" y1="540.53" x2="365.35" y2="555.53" stroke="#000" stroke-width="3"/>
<line x1="424.31" y1="540.53" x2="424.31" y2="547.53" stroke="#000" stroke-width="3"/>
<line x1="458.79" y1="540.53" x2="458.79" y2="547.53" stroke="#000" stroke-width="3"/>
<line x1="483.26" y1="540.53" x2="483.26" y2="547.53" stroke="#000" stroke-width="3"/>
<line x1="502.24" y1="540.53" x2="502.24" y2="547.53" stroke="#000" stroke-width="3"/>
<line x1="517.75" y1="540.53" x2="517.75" y2="547.53" stroke="#000" stroke-width="3"/>
<line x1="530.86" y1="540.53" x2="530.86" y2="547.53" stroke="#000" stroke-width="3"/>
<line x1="542.22" y1="540.53" x2="542.22" y2="547.53" stroke="#000" stroke-width="3"/>
<line x1="552.24" y1="540.53" x2="552.24" y2="547.53" stroke="#000" stroke-width="3"/>
<line x1="561.20" y1="540.53" x2="561.20" y2="555.53" stroke="#000" stroke-width="3"/>
<line x1="620.16" y1="540.53" x2="620.16" y2="547.53" stroke="#000" stroke-width="3"/>
<line x1="654.64" y1="540.53" x2="654.64" y2="547.53" stroke="#000" stroke-width="3"/>
<line x1="679.11" y1="540.53" x2="679.11" y2="547.53" stroke="#000" stroke-width="3"/>
<path d="M770.50,540.53 L770.50,14.40 L1296.80,14.40 L1296.80,540.53 Z" fill="none" stroke="#000" stroke-width="3" stroke-linejoin="miter"/>
<line x1="755.00" y1="492.70" x2="770.50" y2="492.70" stroke="#000" stroke-width="3"/>
<line x1="755.00" y1="397.04" x2="770.50" y2="397.04" stroke="#000" stroke-width="3"/>
<line x1="755.00" y1="301.38" x2="770.50" y2="301.38" stroke="#000" stroke-width="3"/>
<line x1="755.00" y1="205.72" x2="770.50" y2="205.72" stroke="#000" stroke-width="3"/>
<line x1="755.00" y1="110.06" x2="770.50" y2="110.06" stroke="#000" stroke-width="3"/>
<line x1="755.00" y1="14.40" x2="770.50" y2="14.40" stroke="#000" stroke-width="3"/>
<line x1="770.50" y1="540.53" x2="770.50" y2="555.53" stroke="#000" stroke-width="3"/>
<line x1="829.46" y1="540.53" x2="829.46" y2="547.53" stroke="#000" stroke-width="3"/>
<line x1="863.94" y1="540.53" x2="863.94" y2="547.53" stroke="#000" stroke-width="3"/>
<line x1="888.41" y1="540.53" x2="888.41" y2="547.53" stroke="#000" stroke-width="3"/>
<line x1="907.39" y1="540.53" x2="907.39" y2="547.53" stroke="#000" stroke-width="3"/>
<line x1="922.90" y1="540.53" x2="922.90" y2="547.53" stroke="#000" stroke-width="3"/>
<line x1="936.01" y1="540.53" x2="936.01" y2="547.53" stroke="#000" stroke-width="3"/>
<line x1="947.37" y1="540.53" x2="947.37" y2="547.53" stroke="#000" stroke-width="3"/>
<line x1="957.39" y1="540.53" x2="957.39" y2="547.53" stroke="#000" stroke-width="3"/>
<line x1="966.35" y1="540.53" x2="966.35" y2="555.53" stroke="#000" stroke-width="3"/>
<line x1="1025.31" y1="540.53" x2="1025.31" y2="547.53" stroke="#000" stroke-width="3"/>
<line x1="1059.79" y1="540.53" x2="1059.79" y2="547.53" stroke="#000" stroke-width="3"/>
<line x1="1084.26" y1="540.53" x2="1084.26" y2="547.53" stroke="#000" stroke-width="3"/>
<line x1="1103.24" y1="540.53" x2="1103.24" y2="547.53" stroke="#000" stroke-width="3"/>
<line x1="1118.75" y1="540.53" x2="1118.75" y2="547.53" stroke="#000" stroke-width="3"/>
<line x1="1131.86" y1="540.53" x2="1131.86" y2="547.53" stroke="#000" stroke-width="3"/>
<line x1="1143.22" y1="540.53" x2="1143.22" y2="547.53" stroke="#000" stroke-width="3"/>
<line x1="1153.24" y1="540.53" x2="1153.24" y2="547.53" stroke="#000" stroke-width="3"/>
<line x1="1162.20" y1="540.53" x2="1162.20" y2="555.53" stroke="#000" stroke-width="3"/>
<line x1="1221.16" y1="540.53" x2="1221.16" y2="547.53" stroke="#000" stroke-width="3"/>
<line x1="1255.64" y1="540.53" x2="1255.64" y2="547.53" stroke="#000" stroke-width="3"/>
<line x1="1280.11" y1="540.53" x2="1280.11" y2="547.53" stroke="#000" stroke-width="3"/></svg></body></html>
